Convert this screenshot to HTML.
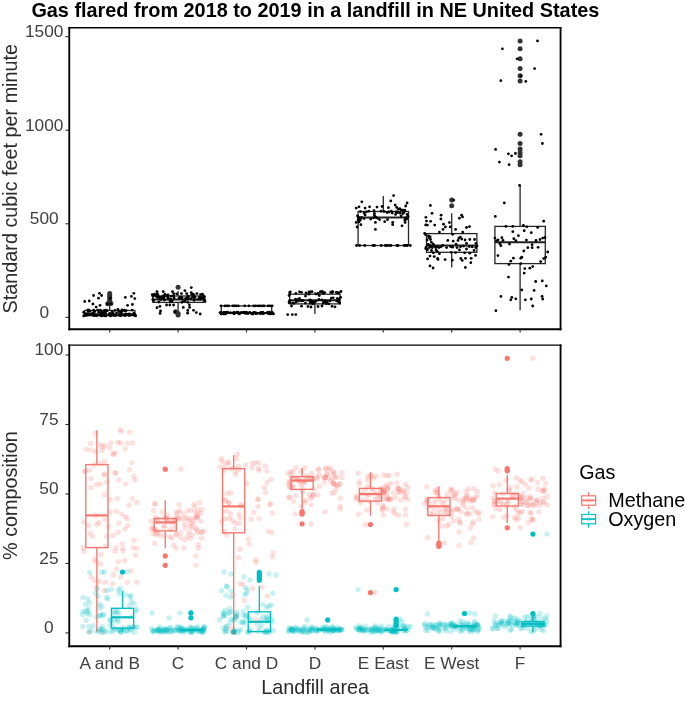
<!DOCTYPE html><html><head><meta charset="utf-8"><title>Gas flared</title><style>html,body{margin:0;padding:0;background:#fff;width:685px;height:704px;overflow:hidden}body{position:relative}</style></head><body><svg width="685" height="704" viewBox="0 0 685 704" style="position:absolute;left:0;top:0;display:block;will-change:transform">
<rect x="0" y="0" width="685" height="704" fill="#fff"/>
<text x="31.4" y="16.6" font-family="'Liberation Sans', sans-serif" font-weight="bold" font-size="19.85" fill="#000">Gas flared from 2018 to 2019 in a landfill in NE United States</text>
<g stroke="#262626" stroke-width="1.3" fill="none"><line x1="109.70" y1="305.00" x2="109.70" y2="310.50"/><line x1="109.70" y1="315.70" x2="109.70" y2="316.40"/><rect x="84.50" y="310.50" width="50.40" height="5.20" fill="#fff"/><line x1="178.10" y1="291.00" x2="178.10" y2="296.00"/><line x1="178.10" y1="302.40" x2="178.10" y2="311.30"/><rect x="152.90" y="296.00" width="50.40" height="6.40" fill="#fff"/><line x1="246.50" y1="305.90" x2="246.50" y2="305.90"/><line x1="246.50" y1="313.00" x2="246.50" y2="313.00"/><rect x="221.30" y="305.90" width="50.40" height="7.10" fill="#fff"/><line x1="314.90" y1="292.00" x2="314.90" y2="294.20"/><line x1="314.90" y1="303.90" x2="314.90" y2="314.10"/><rect x="289.70" y="294.20" width="50.40" height="9.70" fill="#fff"/><line x1="383.30" y1="196.10" x2="383.30" y2="211.50"/><line x1="383.30" y1="245.50" x2="383.30" y2="245.50"/><rect x="358.10" y="211.50" width="50.40" height="34.00" fill="#fff"/><line x1="451.70" y1="213.20" x2="451.70" y2="233.60"/><line x1="451.70" y1="252.30" x2="451.70" y2="267.50"/><rect x="426.50" y="233.60" width="50.40" height="18.70" fill="#fff"/><line x1="520.10" y1="185.60" x2="520.10" y2="226.40"/><line x1="520.10" y1="263.60" x2="520.10" y2="310.30"/><rect x="494.90" y="226.40" width="50.40" height="37.20" fill="#fff"/></g>
<g stroke="#222" stroke-width="2.0"><line x1="84.50" y1="314.80" x2="134.90" y2="314.80"/><line x1="152.90" y1="299.60" x2="203.30" y2="299.60"/><line x1="221.30" y1="313.00" x2="271.70" y2="313.00"/><line x1="289.70" y1="300.20" x2="340.10" y2="300.20"/><line x1="358.10" y1="217.40" x2="408.50" y2="217.40"/><line x1="426.50" y1="245.60" x2="476.90" y2="245.60"/><line x1="494.90" y1="242.30" x2="545.30" y2="242.30"/></g>
<g fill="#333"><circle cx="109.70" cy="293.60" r="2.5"/><circle cx="109.70" cy="295.50" r="2.5"/><circle cx="109.70" cy="297.50" r="2.5"/><circle cx="109.70" cy="299.50" r="2.5"/><circle cx="109.70" cy="301.20" r="2.5"/><circle cx="107.70" cy="303.80" r="2.5"/><circle cx="110.90" cy="303.60" r="2.5"/><circle cx="178.10" cy="287.30" r="2.5"/><circle cx="175.60" cy="311.80" r="2.5"/><circle cx="178.10" cy="313.60" r="2.5"/><circle cx="178.10" cy="315.00" r="2.5"/><circle cx="451.70" cy="200.10" r="2.5"/><circle cx="451.70" cy="205.80" r="2.5"/><circle cx="520.10" cy="41.10" r="2.5"/><circle cx="520.10" cy="48.80" r="2.5"/><circle cx="520.10" cy="58.80" r="2.5"/><circle cx="520.10" cy="68.60" r="2.5"/><circle cx="520.10" cy="75.80" r="2.5"/><circle cx="520.10" cy="81.10" r="2.5"/><circle cx="520.10" cy="134.30" r="2.5"/><circle cx="520.10" cy="143.50" r="2.5"/><circle cx="520.10" cy="149.00" r="2.5"/><circle cx="520.10" cy="152.80" r="2.5"/><circle cx="520.10" cy="155.80" r="2.5"/><circle cx="520.10" cy="161.80" r="2.5"/><circle cx="520.10" cy="164.70" r="2.5"/></g>
<g fill="#000"><circle cx="84.70" cy="301.50" r="1.4"/><circle cx="89.30" cy="301.00" r="1.4"/><circle cx="93.60" cy="295.50" r="1.4"/><circle cx="92.90" cy="304.00" r="1.4"/><circle cx="96.20" cy="307.10" r="1.4"/><circle cx="98.50" cy="298.20" r="1.4"/><circle cx="99.50" cy="293.30" r="1.4"/><circle cx="101.60" cy="295.50" r="1.4"/><circle cx="100.00" cy="305.30" r="1.4"/><circle cx="110.80" cy="303.70" r="1.4"/><circle cx="125.30" cy="297.40" r="1.4"/><circle cx="127.60" cy="305.30" r="1.4"/><circle cx="131.40" cy="296.40" r="1.4"/><circle cx="133.80" cy="293.30" r="1.4"/><circle cx="134.80" cy="298.60" r="1.4"/><circle cx="132.40" cy="304.50" r="1.4"/><circle cx="107.50" cy="304.00" r="1.4"/><circle cx="118.00" cy="309.50" r="1.4"/><circle cx="88.00" cy="309.80" r="1.4"/><circle cx="122.00" cy="310.00" r="1.4"/><circle cx="105.37" cy="312.40" r="1.4"/><circle cx="126.82" cy="314.19" r="1.4"/><circle cx="102.84" cy="313.76" r="1.4"/><circle cx="113.22" cy="313.61" r="1.4"/><circle cx="90.02" cy="314.63" r="1.4"/><circle cx="113.01" cy="313.67" r="1.4"/><circle cx="112.54" cy="314.38" r="1.4"/><circle cx="133.80" cy="313.21" r="1.4"/><circle cx="134.88" cy="314.57" r="1.4"/><circle cx="109.96" cy="313.54" r="1.4"/><circle cx="121.25" cy="313.74" r="1.4"/><circle cx="101.43" cy="312.61" r="1.4"/><circle cx="101.32" cy="315.93" r="1.4"/><circle cx="134.89" cy="315.45" r="1.4"/><circle cx="83.68" cy="315.88" r="1.4"/><circle cx="129.22" cy="315.51" r="1.4"/><circle cx="92.89" cy="313.26" r="1.4"/><circle cx="105.26" cy="315.76" r="1.4"/><circle cx="113.85" cy="315.43" r="1.4"/><circle cx="95.71" cy="314.89" r="1.4"/><circle cx="120.74" cy="315.63" r="1.4"/><circle cx="125.87" cy="313.93" r="1.4"/><circle cx="129.34" cy="313.86" r="1.4"/><circle cx="125.60" cy="314.98" r="1.4"/><circle cx="93.26" cy="315.07" r="1.4"/><circle cx="110.71" cy="315.92" r="1.4"/><circle cx="85.68" cy="313.62" r="1.4"/><circle cx="135.12" cy="315.65" r="1.4"/><circle cx="91.39" cy="313.91" r="1.4"/><circle cx="111.80" cy="313.58" r="1.4"/><circle cx="100.50" cy="312.89" r="1.4"/><circle cx="120.86" cy="313.12" r="1.4"/><circle cx="135.72" cy="315.84" r="1.4"/><circle cx="124.91" cy="315.52" r="1.4"/><circle cx="102.81" cy="315.30" r="1.4"/><circle cx="123.47" cy="314.77" r="1.4"/><circle cx="86.73" cy="315.17" r="1.4"/><circle cx="100.60" cy="315.12" r="1.4"/><circle cx="105.59" cy="315.90" r="1.4"/><circle cx="94.08" cy="315.51" r="1.4"/><circle cx="120.17" cy="314.98" r="1.4"/><circle cx="87.70" cy="313.62" r="1.4"/><circle cx="134.28" cy="313.92" r="1.4"/><circle cx="92.09" cy="314.15" r="1.4"/><circle cx="111.70" cy="314.88" r="1.4"/><circle cx="83.67" cy="312.23" r="1.4"/><circle cx="109.54" cy="313.72" r="1.4"/><circle cx="115.39" cy="315.57" r="1.4"/><circle cx="88.53" cy="314.84" r="1.4"/><circle cx="104.82" cy="315.56" r="1.4"/><circle cx="133.63" cy="314.58" r="1.4"/><circle cx="96.27" cy="315.75" r="1.4"/><circle cx="84.93" cy="314.30" r="1.4"/><circle cx="104.23" cy="313.69" r="1.4"/><circle cx="119.20" cy="314.88" r="1.4"/><circle cx="96.57" cy="314.57" r="1.4"/><circle cx="119.82" cy="314.28" r="1.4"/><circle cx="87.05" cy="314.71" r="1.4"/><circle cx="93.74" cy="315.15" r="1.4"/><circle cx="94.10" cy="313.47" r="1.4"/><circle cx="130.43" cy="314.30" r="1.4"/><circle cx="98.85" cy="314.93" r="1.4"/><circle cx="119.90" cy="315.28" r="1.4"/><circle cx="125.42" cy="314.04" r="1.4"/><circle cx="105.91" cy="314.41" r="1.4"/><circle cx="110.63" cy="315.03" r="1.4"/><circle cx="116.54" cy="313.04" r="1.4"/><circle cx="102.99" cy="315.37" r="1.4"/><circle cx="85.35" cy="315.46" r="1.4"/><circle cx="119.51" cy="314.54" r="1.4"/><circle cx="107.13" cy="310.66" r="1.4"/><circle cx="121.97" cy="311.20" r="1.4"/><circle cx="97.65" cy="310.07" r="1.4"/><circle cx="101.77" cy="312.30" r="1.4"/><circle cx="118.82" cy="311.56" r="1.4"/><circle cx="132.09" cy="310.08" r="1.4"/><circle cx="115.03" cy="310.47" r="1.4"/><circle cx="104.44" cy="310.45" r="1.4"/><circle cx="101.98" cy="312.25" r="1.4"/><circle cx="121.36" cy="312.12" r="1.4"/><circle cx="87.89" cy="310.75" r="1.4"/><circle cx="124.38" cy="310.10" r="1.4"/><circle cx="93.77" cy="310.20" r="1.4"/><circle cx="126.10" cy="310.58" r="1.4"/><circle cx="105.85" cy="310.03" r="1.4"/><circle cx="89.85" cy="311.28" r="1.4"/><circle cx="124.75" cy="310.85" r="1.4"/><circle cx="100.45" cy="310.10" r="1.4"/><circle cx="89.13" cy="310.37" r="1.4"/><circle cx="94.62" cy="311.42" r="1.4"/><circle cx="102.48" cy="312.44" r="1.4"/><circle cx="98.63" cy="312.14" r="1.4"/><circle cx="88.73" cy="311.32" r="1.4"/><circle cx="112.30" cy="311.64" r="1.4"/><circle cx="105.12" cy="311.31" r="1.4"/><circle cx="110.20" cy="298.00" r="1.4"/><circle cx="157.00" cy="291.60" r="1.4"/><circle cx="163.20" cy="291.60" r="1.4"/><circle cx="172.50" cy="291.60" r="1.4"/><circle cx="184.90" cy="290.70" r="1.4"/><circle cx="191.30" cy="287.60" r="1.4"/><circle cx="191.30" cy="292.60" r="1.4"/><circle cx="157.00" cy="307.70" r="1.4"/><circle cx="159.90" cy="306.30" r="1.4"/><circle cx="160.50" cy="311.00" r="1.4"/><circle cx="160.10" cy="313.40" r="1.4"/><circle cx="166.60" cy="305.00" r="1.4"/><circle cx="169.80" cy="305.00" r="1.4"/><circle cx="173.60" cy="305.00" r="1.4"/><circle cx="183.30" cy="307.40" r="1.4"/><circle cx="189.40" cy="304.80" r="1.4"/><circle cx="189.60" cy="307.40" r="1.4"/><circle cx="187.80" cy="310.50" r="1.4"/><circle cx="187.60" cy="313.20" r="1.4"/><circle cx="193.50" cy="310.30" r="1.4"/><circle cx="196.30" cy="312.60" r="1.4"/><circle cx="200.20" cy="314.00" r="1.4"/><circle cx="175.10" cy="311.80" r="1.4"/><circle cx="153.00" cy="296.00" r="1.4"/><circle cx="205.00" cy="301.50" r="1.4"/><circle cx="203.50" cy="297.00" r="1.4"/><circle cx="193.11" cy="294.49" r="1.4"/><circle cx="179.94" cy="297.32" r="1.4"/><circle cx="193.32" cy="294.56" r="1.4"/><circle cx="173.68" cy="293.66" r="1.4"/><circle cx="186.95" cy="299.14" r="1.4"/><circle cx="170.41" cy="298.81" r="1.4"/><circle cx="186.70" cy="293.61" r="1.4"/><circle cx="176.66" cy="293.80" r="1.4"/><circle cx="168.26" cy="298.70" r="1.4"/><circle cx="158.21" cy="297.17" r="1.4"/><circle cx="154.53" cy="294.21" r="1.4"/><circle cx="202.44" cy="294.13" r="1.4"/><circle cx="160.82" cy="299.61" r="1.4"/><circle cx="168.02" cy="294.91" r="1.4"/><circle cx="156.66" cy="296.75" r="1.4"/><circle cx="154.65" cy="294.93" r="1.4"/><circle cx="163.38" cy="298.34" r="1.4"/><circle cx="160.17" cy="297.32" r="1.4"/><circle cx="164.43" cy="299.96" r="1.4"/><circle cx="204.50" cy="299.51" r="1.4"/><circle cx="199.65" cy="297.10" r="1.4"/><circle cx="201.30" cy="297.66" r="1.4"/><circle cx="160.03" cy="298.26" r="1.4"/><circle cx="196.94" cy="293.59" r="1.4"/><circle cx="161.93" cy="298.60" r="1.4"/><circle cx="192.59" cy="297.14" r="1.4"/><circle cx="158.04" cy="295.22" r="1.4"/><circle cx="164.11" cy="299.87" r="1.4"/><circle cx="163.55" cy="295.91" r="1.4"/><circle cx="188.36" cy="297.81" r="1.4"/><circle cx="181.58" cy="297.73" r="1.4"/><circle cx="197.78" cy="299.44" r="1.4"/><circle cx="157.30" cy="293.70" r="1.4"/><circle cx="200.38" cy="299.42" r="1.4"/><circle cx="171.19" cy="296.10" r="1.4"/><circle cx="188.14" cy="296.24" r="1.4"/><circle cx="157.44" cy="295.12" r="1.4"/><circle cx="167.75" cy="297.18" r="1.4"/><circle cx="160.66" cy="298.24" r="1.4"/><circle cx="203.38" cy="296.00" r="1.4"/><circle cx="182.01" cy="297.64" r="1.4"/><circle cx="194.19" cy="297.59" r="1.4"/><circle cx="179.13" cy="298.18" r="1.4"/><circle cx="152.77" cy="299.61" r="1.4"/><circle cx="199.58" cy="298.01" r="1.4"/><circle cx="162.29" cy="297.57" r="1.4"/><circle cx="153.00" cy="296.09" r="1.4"/><circle cx="163.02" cy="297.15" r="1.4"/><circle cx="164.90" cy="294.10" r="1.4"/><circle cx="193.97" cy="295.13" r="1.4"/><circle cx="181.44" cy="293.61" r="1.4"/><circle cx="181.65" cy="298.63" r="1.4"/><circle cx="193.50" cy="295.63" r="1.4"/><circle cx="158.37" cy="297.46" r="1.4"/><circle cx="167.90" cy="295.36" r="1.4"/><circle cx="162.74" cy="296.06" r="1.4"/><circle cx="188.00" cy="296.11" r="1.4"/><circle cx="186.08" cy="298.23" r="1.4"/><circle cx="194.85" cy="297.21" r="1.4"/><circle cx="204.48" cy="296.76" r="1.4"/><circle cx="180.24" cy="297.78" r="1.4"/><circle cx="203.46" cy="298.06" r="1.4"/><circle cx="200.55" cy="294.53" r="1.4"/><circle cx="174.08" cy="298.07" r="1.4"/><circle cx="190.70" cy="298.90" r="1.4"/><circle cx="165.75" cy="295.55" r="1.4"/><circle cx="173.58" cy="296.05" r="1.4"/><circle cx="156.46" cy="296.03" r="1.4"/><circle cx="185.87" cy="298.31" r="1.4"/><circle cx="163.80" cy="297.53" r="1.4"/><circle cx="191.68" cy="294.51" r="1.4"/><circle cx="152.27" cy="294.54" r="1.4"/><circle cx="187.82" cy="302.37" r="1.4"/><circle cx="172.22" cy="300.81" r="1.4"/><circle cx="185.06" cy="300.82" r="1.4"/><circle cx="153.60" cy="300.64" r="1.4"/><circle cx="183.63" cy="301.19" r="1.4"/><circle cx="170.06" cy="301.02" r="1.4"/><circle cx="158.84" cy="302.00" r="1.4"/><circle cx="171.51" cy="301.79" r="1.4"/><circle cx="181.88" cy="302.34" r="1.4"/><circle cx="194.11" cy="300.34" r="1.4"/><circle cx="221.00" cy="305.80" r="1.4"/><circle cx="224.80" cy="305.80" r="1.4"/><circle cx="226.90" cy="305.80" r="1.4"/><circle cx="228.60" cy="305.80" r="1.4"/><circle cx="232.80" cy="305.80" r="1.4"/><circle cx="234.50" cy="305.80" r="1.4"/><circle cx="236.20" cy="305.80" r="1.4"/><circle cx="238.30" cy="305.80" r="1.4"/><circle cx="244.70" cy="305.80" r="1.4"/><circle cx="248.90" cy="305.80" r="1.4"/><circle cx="253.60" cy="305.80" r="1.4"/><circle cx="255.70" cy="305.80" r="1.4"/><circle cx="258.20" cy="305.80" r="1.4"/><circle cx="260.30" cy="305.80" r="1.4"/><circle cx="262.50" cy="305.80" r="1.4"/><circle cx="264.10" cy="305.80" r="1.4"/><circle cx="268.00" cy="305.80" r="1.4"/><circle cx="270.10" cy="305.80" r="1.4"/><circle cx="272.20" cy="305.80" r="1.4"/><circle cx="244.15" cy="312.12" r="1.4"/><circle cx="260.40" cy="312.56" r="1.4"/><circle cx="272.25" cy="312.55" r="1.4"/><circle cx="247.19" cy="313.08" r="1.4"/><circle cx="264.26" cy="313.29" r="1.4"/><circle cx="267.14" cy="312.74" r="1.4"/><circle cx="225.22" cy="312.47" r="1.4"/><circle cx="222.48" cy="313.51" r="1.4"/><circle cx="256.70" cy="313.61" r="1.4"/><circle cx="261.78" cy="312.35" r="1.4"/><circle cx="223.43" cy="313.42" r="1.4"/><circle cx="220.06" cy="312.77" r="1.4"/><circle cx="251.44" cy="313.40" r="1.4"/><circle cx="252.93" cy="314.00" r="1.4"/><circle cx="272.14" cy="312.72" r="1.4"/><circle cx="236.85" cy="312.14" r="1.4"/><circle cx="226.48" cy="312.98" r="1.4"/><circle cx="254.33" cy="312.57" r="1.4"/><circle cx="225.32" cy="313.47" r="1.4"/><circle cx="255.96" cy="313.10" r="1.4"/><circle cx="227.54" cy="312.49" r="1.4"/><circle cx="234.34" cy="313.81" r="1.4"/><circle cx="269.55" cy="312.19" r="1.4"/><circle cx="270.12" cy="313.93" r="1.4"/><circle cx="262.42" cy="312.57" r="1.4"/><circle cx="271.73" cy="313.72" r="1.4"/><circle cx="227.46" cy="312.17" r="1.4"/><circle cx="240.22" cy="313.26" r="1.4"/><circle cx="221.32" cy="314.01" r="1.4"/><circle cx="255.99" cy="313.13" r="1.4"/><circle cx="246.32" cy="312.31" r="1.4"/><circle cx="260.01" cy="313.58" r="1.4"/><circle cx="221.20" cy="313.71" r="1.4"/><circle cx="238.96" cy="313.97" r="1.4"/><circle cx="238.30" cy="312.52" r="1.4"/><circle cx="230.48" cy="312.76" r="1.4"/><circle cx="223.78" cy="312.43" r="1.4"/><circle cx="245.28" cy="313.20" r="1.4"/><circle cx="249.83" cy="312.36" r="1.4"/><circle cx="221.32" cy="312.39" r="1.4"/><circle cx="268.12" cy="312.37" r="1.4"/><circle cx="256.58" cy="313.21" r="1.4"/><circle cx="252.10" cy="313.97" r="1.4"/><circle cx="233.68" cy="313.51" r="1.4"/><circle cx="247.69" cy="312.84" r="1.4"/><circle cx="241.46" cy="312.50" r="1.4"/><circle cx="225.39" cy="313.94" r="1.4"/><circle cx="254.26" cy="312.44" r="1.4"/><circle cx="262.97" cy="312.47" r="1.4"/><circle cx="255.43" cy="313.27" r="1.4"/><circle cx="262.63" cy="312.92" r="1.4"/><circle cx="271.10" cy="313.54" r="1.4"/><circle cx="244.03" cy="312.34" r="1.4"/><circle cx="233.81" cy="312.36" r="1.4"/><circle cx="247.88" cy="313.71" r="1.4"/><circle cx="259.71" cy="313.37" r="1.4"/><circle cx="242.84" cy="312.66" r="1.4"/><circle cx="263.01" cy="313.44" r="1.4"/><circle cx="255.50" cy="313.22" r="1.4"/><circle cx="262.30" cy="313.28" r="1.4"/><circle cx="234.09" cy="312.85" r="1.4"/><circle cx="236.57" cy="312.68" r="1.4"/><circle cx="268.07" cy="313.52" r="1.4"/><circle cx="252.83" cy="313.00" r="1.4"/><circle cx="245.97" cy="312.31" r="1.4"/><circle cx="245.39" cy="313.28" r="1.4"/><circle cx="238.74" cy="313.11" r="1.4"/><circle cx="273.46" cy="313.93" r="1.4"/><circle cx="224.12" cy="313.99" r="1.4"/><circle cx="262.50" cy="313.72" r="1.4"/><circle cx="330.84" cy="292.13" r="1.4"/><circle cx="295.86" cy="293.43" r="1.4"/><circle cx="332.05" cy="291.81" r="1.4"/><circle cx="289.75" cy="294.34" r="1.4"/><circle cx="336.32" cy="292.28" r="1.4"/><circle cx="332.11" cy="292.40" r="1.4"/><circle cx="332.76" cy="291.54" r="1.4"/><circle cx="320.64" cy="292.17" r="1.4"/><circle cx="322.06" cy="291.58" r="1.4"/><circle cx="322.66" cy="291.80" r="1.4"/><circle cx="312.07" cy="291.71" r="1.4"/><circle cx="308.95" cy="291.97" r="1.4"/><circle cx="306.05" cy="292.91" r="1.4"/><circle cx="323.27" cy="293.40" r="1.4"/><circle cx="316.22" cy="294.06" r="1.4"/><circle cx="310.36" cy="291.93" r="1.4"/><circle cx="324.63" cy="292.57" r="1.4"/><circle cx="337.61" cy="292.67" r="1.4"/><circle cx="289.72" cy="292.53" r="1.4"/><circle cx="338.90" cy="292.93" r="1.4"/><circle cx="331.79" cy="292.60" r="1.4"/><circle cx="320.64" cy="291.73" r="1.4"/><circle cx="299.53" cy="291.81" r="1.4"/><circle cx="309.93" cy="292.47" r="1.4"/><circle cx="318.01" cy="293.45" r="1.4"/><circle cx="301.48" cy="292.30" r="1.4"/><circle cx="290.28" cy="291.86" r="1.4"/><circle cx="308.84" cy="294.20" r="1.4"/><circle cx="298.48" cy="301.04" r="1.4"/><circle cx="289.18" cy="301.94" r="1.4"/><circle cx="310.80" cy="300.66" r="1.4"/><circle cx="309.16" cy="300.36" r="1.4"/><circle cx="310.13" cy="299.92" r="1.4"/><circle cx="326.27" cy="303.67" r="1.4"/><circle cx="336.56" cy="300.83" r="1.4"/><circle cx="289.12" cy="302.84" r="1.4"/><circle cx="312.96" cy="301.73" r="1.4"/><circle cx="323.26" cy="303.06" r="1.4"/><circle cx="315.95" cy="301.17" r="1.4"/><circle cx="295.47" cy="299.21" r="1.4"/><circle cx="297.27" cy="299.77" r="1.4"/><circle cx="338.36" cy="301.83" r="1.4"/><circle cx="289.95" cy="300.59" r="1.4"/><circle cx="310.34" cy="303.17" r="1.4"/><circle cx="310.40" cy="301.73" r="1.4"/><circle cx="302.49" cy="300.62" r="1.4"/><circle cx="292.73" cy="302.91" r="1.4"/><circle cx="314.42" cy="302.66" r="1.4"/><circle cx="318.82" cy="299.44" r="1.4"/><circle cx="302.75" cy="300.60" r="1.4"/><circle cx="330.01" cy="300.73" r="1.4"/><circle cx="339.68" cy="302.98" r="1.4"/><circle cx="325.11" cy="301.66" r="1.4"/><circle cx="325.20" cy="300.69" r="1.4"/><circle cx="293.92" cy="303.29" r="1.4"/><circle cx="312.86" cy="303.79" r="1.4"/><circle cx="327.29" cy="301.87" r="1.4"/><circle cx="311.14" cy="302.43" r="1.4"/><circle cx="301.35" cy="300.77" r="1.4"/><circle cx="305.44" cy="303.09" r="1.4"/><circle cx="338.84" cy="299.49" r="1.4"/><circle cx="289.80" cy="300.76" r="1.4"/><circle cx="324.68" cy="301.19" r="1.4"/><circle cx="328.78" cy="303.84" r="1.4"/><circle cx="323.81" cy="302.33" r="1.4"/><circle cx="296.09" cy="301.93" r="1.4"/><circle cx="321.76" cy="299.98" r="1.4"/><circle cx="289.87" cy="302.39" r="1.4"/><circle cx="340.65" cy="297.41" r="1.4"/><circle cx="299.44" cy="298.42" r="1.4"/><circle cx="305.52" cy="296.04" r="1.4"/><circle cx="331.30" cy="298.07" r="1.4"/><circle cx="337.42" cy="298.48" r="1.4"/><circle cx="289.12" cy="295.53" r="1.4"/><circle cx="319.31" cy="295.54" r="1.4"/><circle cx="333.26" cy="297.81" r="1.4"/><circle cx="291.50" cy="306.00" r="1.4"/><circle cx="301.50" cy="306.20" r="1.4"/><circle cx="308.00" cy="306.50" r="1.4"/><circle cx="311.00" cy="307.00" r="1.4"/><circle cx="318.00" cy="306.50" r="1.4"/><circle cx="322.00" cy="306.00" r="1.4"/><circle cx="332.00" cy="306.30" r="1.4"/><circle cx="335.00" cy="306.80" r="1.4"/><circle cx="287.70" cy="314.60" r="1.4"/><circle cx="292.30" cy="314.60" r="1.4"/><circle cx="295.80" cy="314.60" r="1.4"/><circle cx="341.00" cy="291.50" r="1.4"/><circle cx="393.60" cy="195.60" r="1.4"/><circle cx="390.80" cy="200.90" r="1.4"/><circle cx="361.80" cy="201.80" r="1.4"/><circle cx="407.10" cy="203.00" r="1.4"/><circle cx="405.70" cy="206.00" r="1.4"/><circle cx="356.20" cy="208.10" r="1.4"/><circle cx="359.00" cy="206.80" r="1.4"/><circle cx="365.10" cy="208.10" r="1.4"/><circle cx="369.60" cy="206.80" r="1.4"/><circle cx="377.00" cy="207.10" r="1.4"/><circle cx="382.10" cy="206.50" r="1.4"/><circle cx="388.40" cy="207.70" r="1.4"/><circle cx="395.20" cy="205.10" r="1.4"/><circle cx="396.70" cy="207.40" r="1.4"/><circle cx="398.30" cy="209.30" r="1.4"/><circle cx="399.70" cy="208.60" r="1.4"/><circle cx="401.10" cy="209.80" r="1.4"/><circle cx="402.90" cy="210.20" r="1.4"/><circle cx="404.80" cy="210.20" r="1.4"/><circle cx="360.40" cy="211.60" r="1.4"/><circle cx="368.80" cy="211.20" r="1.4"/><circle cx="374.00" cy="210.70" r="1.4"/><circle cx="381.00" cy="211.20" r="1.4"/><circle cx="391.30" cy="211.20" r="1.4"/><circle cx="364.10" cy="213.00" r="1.4"/><circle cx="365.10" cy="214.90" r="1.4"/><circle cx="374.40" cy="213.50" r="1.4"/><circle cx="374.40" cy="215.40" r="1.4"/><circle cx="387.00" cy="212.60" r="1.4"/><circle cx="392.20" cy="213.00" r="1.4"/><circle cx="395.50" cy="214.40" r="1.4"/><circle cx="403.90" cy="212.60" r="1.4"/><circle cx="402.90" cy="213.50" r="1.4"/><circle cx="401.10" cy="215.80" r="1.4"/><circle cx="407.10" cy="214.40" r="1.4"/><circle cx="408.10" cy="216.50" r="1.4"/><circle cx="359.00" cy="218.60" r="1.4"/><circle cx="358.10" cy="220.00" r="1.4"/><circle cx="360.40" cy="220.00" r="1.4"/><circle cx="364.10" cy="218.60" r="1.4"/><circle cx="370.70" cy="219.10" r="1.4"/><circle cx="379.60" cy="219.60" r="1.4"/><circle cx="387.50" cy="219.60" r="1.4"/><circle cx="404.80" cy="220.00" r="1.4"/><circle cx="356.20" cy="222.40" r="1.4"/><circle cx="359.00" cy="221.90" r="1.4"/><circle cx="360.90" cy="224.70" r="1.4"/><circle cx="357.10" cy="227.00" r="1.4"/><circle cx="375.40" cy="222.40" r="1.4"/><circle cx="384.70" cy="221.70" r="1.4"/><circle cx="392.70" cy="222.40" r="1.4"/><circle cx="392.70" cy="224.70" r="1.4"/><circle cx="405.10" cy="222.40" r="1.4"/><circle cx="402.00" cy="225.80" r="1.4"/><circle cx="375.40" cy="229.40" r="1.4"/><circle cx="375.80" cy="217.20" r="1.4"/><circle cx="358.50" cy="217.20" r="1.4"/><circle cx="357.50" cy="216.00" r="1.4"/><circle cx="361.50" cy="217.50" r="1.4"/><circle cx="373.50" cy="217.80" r="1.4"/><circle cx="377.50" cy="218.20" r="1.4"/><circle cx="396.00" cy="211.80" r="1.4"/><circle cx="397.50" cy="212.60" r="1.4"/><circle cx="400.00" cy="213.20" r="1.4"/><circle cx="405.50" cy="217.80" r="1.4"/><circle cx="406.50" cy="219.20" r="1.4"/><circle cx="366.50" cy="211.80" r="1.4"/><circle cx="384.00" cy="211.50" r="1.4"/><circle cx="389.00" cy="212.00" r="1.4"/><circle cx="356.60" cy="245.50" r="1.4"/><circle cx="359.70" cy="245.50" r="1.4"/><circle cx="364.80" cy="245.50" r="1.4"/><circle cx="373.00" cy="245.50" r="1.4"/><circle cx="374.50" cy="245.50" r="1.4"/><circle cx="381.20" cy="245.50" r="1.4"/><circle cx="385.30" cy="245.50" r="1.4"/><circle cx="386.80" cy="245.50" r="1.4"/><circle cx="388.80" cy="245.50" r="1.4"/><circle cx="390.90" cy="245.50" r="1.4"/><circle cx="397.00" cy="245.50" r="1.4"/><circle cx="398.00" cy="245.50" r="1.4"/><circle cx="404.20" cy="245.50" r="1.4"/><circle cx="405.70" cy="245.50" r="1.4"/><circle cx="407.20" cy="245.50" r="1.4"/><circle cx="410.30" cy="245.50" r="1.4"/><circle cx="430.40" cy="205.50" r="1.4"/><circle cx="432.00" cy="213.30" r="1.4"/><circle cx="425.90" cy="217.30" r="1.4"/><circle cx="441.10" cy="215.20" r="1.4"/><circle cx="440.90" cy="219.00" r="1.4"/><circle cx="426.50" cy="221.10" r="1.4"/><circle cx="430.60" cy="221.30" r="1.4"/><circle cx="425.70" cy="224.90" r="1.4"/><circle cx="427.40" cy="225.10" r="1.4"/><circle cx="434.70" cy="225.10" r="1.4"/><circle cx="443.50" cy="224.20" r="1.4"/><circle cx="445.40" cy="227.00" r="1.4"/><circle cx="443.00" cy="229.40" r="1.4"/><circle cx="449.40" cy="222.60" r="1.4"/><circle cx="450.20" cy="226.90" r="1.4"/><circle cx="455.60" cy="229.40" r="1.4"/><circle cx="459.40" cy="218.20" r="1.4"/><circle cx="461.60" cy="215.20" r="1.4"/><circle cx="462.50" cy="216.90" r="1.4"/><circle cx="466.50" cy="227.50" r="1.4"/><circle cx="469.50" cy="226.60" r="1.4"/><circle cx="453.70" cy="200.10" r="1.4"/><circle cx="424.70" cy="233.30" r="1.4"/><circle cx="425.70" cy="234.70" r="1.4"/><circle cx="439.40" cy="232.10" r="1.4"/><circle cx="452.70" cy="234.30" r="1.4"/><circle cx="462.70" cy="232.10" r="1.4"/><circle cx="429.00" cy="237.60" r="1.4"/><circle cx="430.20" cy="236.80" r="1.4"/><circle cx="427.10" cy="240.00" r="1.4"/><circle cx="431.40" cy="242.30" r="1.4"/><circle cx="433.30" cy="244.20" r="1.4"/><circle cx="429.50" cy="245.20" r="1.4"/><circle cx="426.20" cy="247.10" r="1.4"/><circle cx="429.50" cy="247.60" r="1.4"/><circle cx="432.30" cy="247.60" r="1.4"/><circle cx="435.70" cy="247.60" r="1.4"/><circle cx="439.00" cy="247.60" r="1.4"/><circle cx="442.80" cy="245.40" r="1.4"/><circle cx="446.60" cy="247.60" r="1.4"/><circle cx="447.80" cy="240.40" r="1.4"/><circle cx="453.20" cy="241.20" r="1.4"/><circle cx="456.10" cy="244.20" r="1.4"/><circle cx="457.00" cy="247.60" r="1.4"/><circle cx="458.00" cy="240.40" r="1.4"/><circle cx="458.90" cy="238.10" r="1.4"/><circle cx="460.30" cy="237.10" r="1.4"/><circle cx="461.70" cy="239.00" r="1.4"/><circle cx="465.10" cy="240.00" r="1.4"/><circle cx="469.80" cy="239.50" r="1.4"/><circle cx="474.60" cy="239.50" r="1.4"/><circle cx="466.50" cy="243.30" r="1.4"/><circle cx="476.00" cy="243.30" r="1.4"/><circle cx="463.60" cy="246.10" r="1.4"/><circle cx="469.30" cy="246.60" r="1.4"/><circle cx="472.20" cy="246.90" r="1.4"/><circle cx="466.50" cy="249.00" r="1.4"/><circle cx="474.10" cy="250.40" r="1.4"/><circle cx="459.40" cy="249.90" r="1.4"/><circle cx="437.10" cy="251.30" r="1.4"/><circle cx="433.30" cy="252.80" r="1.4"/><circle cx="439.40" cy="253.70" r="1.4"/><circle cx="451.30" cy="252.30" r="1.4"/><circle cx="455.60" cy="252.60" r="1.4"/><circle cx="464.60" cy="252.80" r="1.4"/><circle cx="469.80" cy="253.20" r="1.4"/><circle cx="475.50" cy="255.40" r="1.4"/><circle cx="430.00" cy="256.10" r="1.4"/><circle cx="434.20" cy="256.60" r="1.4"/><circle cx="427.60" cy="258.90" r="1.4"/><circle cx="437.60" cy="258.50" r="1.4"/><circle cx="438.00" cy="259.40" r="1.4"/><circle cx="445.10" cy="259.60" r="1.4"/><circle cx="452.30" cy="260.20" r="1.4"/><circle cx="460.80" cy="258.50" r="1.4"/><circle cx="462.20" cy="260.40" r="1.4"/><circle cx="465.50" cy="258.30" r="1.4"/><circle cx="471.20" cy="258.30" r="1.4"/><circle cx="470.80" cy="262.70" r="1.4"/><circle cx="430.00" cy="265.90" r="1.4"/><circle cx="433.10" cy="268.00" r="1.4"/><circle cx="465.40" cy="267.50" r="1.4"/><circle cx="436.10" cy="249.90" r="1.4"/><circle cx="425.70" cy="248.50" r="1.4"/><circle cx="428.00" cy="244.50" r="1.4"/><circle cx="431.00" cy="246.50" r="1.4"/><circle cx="434.50" cy="246.20" r="1.4"/><circle cx="437.50" cy="246.80" r="1.4"/><circle cx="427.50" cy="249.50" r="1.4"/><circle cx="431.50" cy="250.50" r="1.4"/><circle cx="441.00" cy="246.80" r="1.4"/><circle cx="450.50" cy="246.50" r="1.4"/><circle cx="452.50" cy="247.20" r="1.4"/><circle cx="460.50" cy="246.80" r="1.4"/><circle cx="475.80" cy="247.50" r="1.4"/><circle cx="477.00" cy="245.80" r="1.4"/><circle cx="430.50" cy="239.50" r="1.4"/><circle cx="428.50" cy="236.00" r="1.4"/><circle cx="537.50" cy="40.90" r="1.4"/><circle cx="502.40" cy="48.80" r="1.4"/><circle cx="517.10" cy="58.80" r="1.4"/><circle cx="534.60" cy="68.60" r="1.4"/><circle cx="521.10" cy="75.80" r="1.4"/><circle cx="500.80" cy="80.70" r="1.4"/><circle cx="525.80" cy="81.40" r="1.4"/><circle cx="541.10" cy="134.30" r="1.4"/><circle cx="542.40" cy="143.50" r="1.4"/><circle cx="495.60" cy="149.40" r="1.4"/><circle cx="508.40" cy="153.80" r="1.4"/><circle cx="511.60" cy="155.80" r="1.4"/><circle cx="515.40" cy="153.50" r="1.4"/><circle cx="499.40" cy="162.10" r="1.4"/><circle cx="509.10" cy="164.70" r="1.4"/><circle cx="519.60" cy="185.40" r="1.4"/><circle cx="504.30" cy="202.90" r="1.4"/><circle cx="495.30" cy="216.40" r="1.4"/><circle cx="543.70" cy="221.20" r="1.4"/><circle cx="505.90" cy="226.40" r="1.4"/><circle cx="512.80" cy="226.40" r="1.4"/><circle cx="523.40" cy="225.40" r="1.4"/><circle cx="526.80" cy="226.80" r="1.4"/><circle cx="537.70" cy="227.40" r="1.4"/><circle cx="512.80" cy="231.70" r="1.4"/><circle cx="524.20" cy="230.70" r="1.4"/><circle cx="531.30" cy="232.70" r="1.4"/><circle cx="518.40" cy="235.70" r="1.4"/><circle cx="494.90" cy="238.10" r="1.4"/><circle cx="501.90" cy="237.70" r="1.4"/><circle cx="513.80" cy="238.70" r="1.4"/><circle cx="515.80" cy="240.70" r="1.4"/><circle cx="526.40" cy="240.10" r="1.4"/><circle cx="542.70" cy="238.10" r="1.4"/><circle cx="499.90" cy="243.70" r="1.4"/><circle cx="500.90" cy="245.70" r="1.4"/><circle cx="509.50" cy="244.10" r="1.4"/><circle cx="527.80" cy="247.70" r="1.4"/><circle cx="532.10" cy="244.70" r="1.4"/><circle cx="532.10" cy="247.70" r="1.4"/><circle cx="538.10" cy="247.30" r="1.4"/><circle cx="523.80" cy="251.00" r="1.4"/><circle cx="547.70" cy="252.00" r="1.4"/><circle cx="497.90" cy="255.60" r="1.4"/><circle cx="513.40" cy="258.20" r="1.4"/><circle cx="510.80" cy="261.20" r="1.4"/><circle cx="520.80" cy="258.20" r="1.4"/><circle cx="521.80" cy="257.20" r="1.4"/><circle cx="545.70" cy="257.20" r="1.4"/><circle cx="543.70" cy="258.60" r="1.4"/><circle cx="540.70" cy="261.60" r="1.4"/><circle cx="508.90" cy="264.60" r="1.4"/><circle cx="520.80" cy="263.60" r="1.4"/><circle cx="524.80" cy="268.60" r="1.4"/><circle cx="529.80" cy="268.20" r="1.4"/><circle cx="532.70" cy="266.60" r="1.4"/><circle cx="524.20" cy="273.10" r="1.4"/><circle cx="508.50" cy="277.10" r="1.4"/><circle cx="535.70" cy="281.50" r="1.4"/><circle cx="542.30" cy="280.90" r="1.4"/><circle cx="546.30" cy="285.90" r="1.4"/><circle cx="521.80" cy="289.90" r="1.4"/><circle cx="534.10" cy="290.40" r="1.4"/><circle cx="500.90" cy="296.40" r="1.4"/><circle cx="511.80" cy="297.40" r="1.4"/><circle cx="510.80" cy="299.80" r="1.4"/><circle cx="515.80" cy="298.80" r="1.4"/><circle cx="525.40" cy="299.80" r="1.4"/><circle cx="531.30" cy="299.00" r="1.4"/><circle cx="542.10" cy="296.40" r="1.4"/><circle cx="542.70" cy="299.00" r="1.4"/><circle cx="532.70" cy="306.00" r="1.4"/><circle cx="495.90" cy="310.70" r="1.4"/><circle cx="496.50" cy="241.00" r="1.4"/><circle cx="498.00" cy="240.00" r="1.4"/><circle cx="536.00" cy="240.50" r="1.4"/><circle cx="540.00" cy="239.50" r="1.4"/><circle cx="545.00" cy="237.50" r="1.4"/><circle cx="503.00" cy="240.50" r="1.4"/></g>
<g stroke="#F8766D" stroke-width="1.35" fill="none"><line x1="96.87" y1="430.20" x2="96.87" y2="464.60"/><line x1="96.87" y1="547.60" x2="96.87" y2="632.00"/><rect x="85.77" y="464.60" width="22.20" height="83.00" fill="#fff"/><line x1="165.27" y1="500.20" x2="165.27" y2="518.50"/><line x1="165.27" y1="530.90" x2="165.27" y2="548.50"/><rect x="154.17" y="518.50" width="22.20" height="12.40" fill="#fff"/><line x1="233.67" y1="455.00" x2="233.67" y2="468.60"/><line x1="233.67" y1="532.80" x2="233.67" y2="630.00"/><rect x="222.57" y="468.60" width="22.20" height="64.20" fill="#fff"/><line x1="302.07" y1="468.00" x2="302.07" y2="476.70"/><line x1="302.07" y1="489.40" x2="302.07" y2="508.70"/><rect x="290.97" y="476.70" width="22.20" height="12.70" fill="#fff"/><line x1="370.47" y1="472.30" x2="370.47" y2="488.40"/><line x1="370.47" y1="501.10" x2="370.47" y2="515.70"/><rect x="359.37" y="488.40" width="22.20" height="12.70" fill="#fff"/><line x1="438.87" y1="486.30" x2="438.87" y2="497.60"/><line x1="438.87" y1="515.50" x2="438.87" y2="542.20"/><rect x="427.77" y="497.60" width="22.20" height="17.90" fill="#fff"/><line x1="507.27" y1="474.80" x2="507.27" y2="493.50"/><line x1="507.27" y1="506.00" x2="507.27" y2="523.00"/><rect x="496.17" y="493.50" width="22.20" height="12.50" fill="#fff"/></g>
<g stroke="#F8766D" stroke-width="2.2"><line x1="85.77" y1="515.40" x2="107.97" y2="515.40"/><line x1="154.17" y1="522.40" x2="176.37" y2="522.40"/><line x1="222.57" y1="506.40" x2="244.77" y2="506.40"/><line x1="290.97" y1="480.60" x2="313.17" y2="480.60"/><line x1="359.37" y1="494.10" x2="381.57" y2="494.10"/><line x1="427.77" y1="506.30" x2="449.97" y2="506.30"/><line x1="496.17" y1="498.60" x2="518.37" y2="498.60"/></g>
<g fill="#F8766D"><circle cx="165.27" cy="469.20" r="2.6"/><circle cx="165.27" cy="555.90" r="2.6"/><circle cx="165.27" cy="565.30" r="2.6"/><circle cx="233.67" cy="632.00" r="2.6"/><circle cx="302.07" cy="511.70" r="2.6"/><circle cx="302.07" cy="513.30" r="2.6"/><circle cx="302.07" cy="514.10" r="2.6"/><circle cx="302.07" cy="523.80" r="2.6"/><circle cx="370.47" cy="524.50" r="2.6"/><circle cx="370.47" cy="592.60" r="2.6"/><circle cx="438.87" cy="543.20" r="2.6"/><circle cx="438.87" cy="544.60" r="2.6"/><circle cx="438.87" cy="546.30" r="2.6"/><circle cx="507.27" cy="358.30" r="2.6"/><circle cx="507.27" cy="468.50" r="2.6"/><circle cx="507.27" cy="470.00" r="2.6"/><circle cx="507.27" cy="470.80" r="2.6"/><circle cx="507.27" cy="527.80" r="2.6"/></g>
<g stroke="#00BFC4" stroke-width="1.35" fill="none"><line x1="122.53" y1="590.70" x2="122.53" y2="608.30"/><line x1="122.53" y1="628.20" x2="122.53" y2="632.00"/><rect x="111.43" y="608.30" width="22.20" height="19.90" fill="#fff"/><rect x="179.83" y="630.10" width="22.20" height="0.01" fill="#fff"/><line x1="259.33" y1="586.10" x2="259.33" y2="611.80"/><line x1="259.33" y1="631.60" x2="259.33" y2="632.00"/><rect x="248.23" y="611.80" width="22.20" height="19.80" fill="#fff"/><rect x="316.63" y="629.60" width="22.20" height="0.01" fill="#fff"/><rect x="385.03" y="629.80" width="22.20" height="0.01" fill="#fff"/><rect x="453.43" y="626.30" width="22.20" height="0.01" fill="#fff"/><line x1="532.93" y1="615.50" x2="532.93" y2="621.60"/><line x1="532.93" y1="626.10" x2="532.93" y2="632.20"/><rect x="521.83" y="621.60" width="22.20" height="4.50" fill="#fff"/></g>
<g stroke="#00BFC4" stroke-width="2.2"><line x1="111.43" y1="617.30" x2="133.63" y2="617.30"/><line x1="179.83" y1="630.10" x2="202.03" y2="630.10"/><line x1="248.23" y1="621.80" x2="270.43" y2="621.80"/><line x1="316.63" y1="629.60" x2="338.83" y2="629.60"/><line x1="385.03" y1="629.80" x2="407.23" y2="629.80"/><line x1="453.43" y1="626.30" x2="475.63" y2="626.30"/><line x1="521.83" y1="623.90" x2="544.03" y2="623.90"/></g>
<g fill="#00BFC4"><circle cx="122.53" cy="572.10" r="2.6"/><circle cx="190.93" cy="612.90" r="2.6"/><circle cx="190.93" cy="617.80" r="2.6"/><circle cx="259.33" cy="572.30" r="2.6"/><circle cx="259.33" cy="574.30" r="2.6"/><circle cx="259.33" cy="576.30" r="2.6"/><circle cx="259.33" cy="578.30" r="2.6"/><circle cx="259.33" cy="580.30" r="2.6"/><circle cx="327.73" cy="619.90" r="2.6"/><circle cx="396.13" cy="589.60" r="2.6"/><circle cx="396.13" cy="619.10" r="2.6"/><circle cx="396.13" cy="621.10" r="2.6"/><circle cx="396.13" cy="623.10" r="2.6"/><circle cx="396.13" cy="625.20" r="2.6"/><circle cx="464.53" cy="613.50" r="2.6"/><circle cx="532.93" cy="613.50" r="2.6"/><circle cx="532.93" cy="534.10" r="2.6"/></g>
<g fill="#F8766D" fill-opacity="0.22"><circle cx="95.40" cy="433.20" r="2.7"/><circle cx="120.00" cy="429.60" r="2.7"/><circle cx="121.50" cy="431.60" r="2.7"/><circle cx="129.70" cy="432.20" r="2.7"/><circle cx="90.30" cy="443.40" r="2.7"/><circle cx="86.20" cy="449.30" r="2.7"/><circle cx="90.80" cy="450.00" r="2.7"/><circle cx="95.40" cy="451.80" r="2.7"/><circle cx="100.50" cy="444.90" r="2.7"/><circle cx="102.60" cy="447.00" r="2.7"/><circle cx="105.10" cy="446.00" r="2.7"/><circle cx="102.10" cy="450.50" r="2.7"/><circle cx="109.70" cy="448.00" r="2.7"/><circle cx="110.80" cy="442.90" r="2.7"/><circle cx="117.90" cy="442.40" r="2.7"/><circle cx="120.50" cy="442.90" r="2.7"/><circle cx="127.60" cy="443.20" r="2.7"/><circle cx="132.70" cy="442.90" r="2.7"/><circle cx="125.10" cy="448.70" r="2.7"/><circle cx="112.80" cy="453.80" r="2.7"/><circle cx="115.40" cy="452.60" r="2.7"/><circle cx="113.80" cy="454.60" r="2.7"/><circle cx="104.60" cy="461.80" r="2.7"/><circle cx="131.70" cy="462.60" r="2.7"/><circle cx="129.70" cy="470.00" r="2.7"/><circle cx="115.40" cy="472.50" r="2.7"/><circle cx="94.40" cy="464.90" r="2.7"/><circle cx="100.50" cy="463.80" r="2.7"/><circle cx="89.80" cy="470.00" r="2.7"/><circle cx="85.20" cy="471.50" r="2.7"/><circle cx="104.60" cy="474.00" r="2.7"/><circle cx="84.70" cy="471.40" r="2.7"/><circle cx="90.90" cy="478.50" r="2.7"/><circle cx="90.90" cy="487.60" r="2.7"/><circle cx="96.60" cy="484.50" r="2.7"/><circle cx="100.60" cy="483.90" r="2.7"/><circle cx="104.00" cy="475.10" r="2.7"/><circle cx="106.80" cy="481.40" r="2.7"/><circle cx="104.50" cy="494.80" r="2.7"/><circle cx="115.30" cy="473.20" r="2.7"/><circle cx="118.80" cy="480.00" r="2.7"/><circle cx="125.60" cy="483.90" r="2.7"/><circle cx="134.10" cy="476.30" r="2.7"/><circle cx="135.20" cy="480.00" r="2.7"/><circle cx="110.20" cy="499.80" r="2.7"/><circle cx="117.30" cy="498.60" r="2.7"/><circle cx="132.40" cy="498.60" r="2.7"/><circle cx="136.90" cy="502.40" r="2.7"/><circle cx="129.00" cy="505.00" r="2.7"/><circle cx="110.20" cy="512.30" r="2.7"/><circle cx="116.50" cy="511.50" r="2.7"/><circle cx="121.60" cy="514.30" r="2.7"/><circle cx="125.00" cy="516.60" r="2.7"/><circle cx="127.30" cy="518.60" r="2.7"/><circle cx="95.50" cy="515.50" r="2.7"/><circle cx="83.50" cy="522.00" r="2.7"/><circle cx="88.60" cy="525.50" r="2.7"/><circle cx="96.60" cy="524.50" r="2.7"/><circle cx="98.90" cy="522.80" r="2.7"/><circle cx="105.10" cy="519.40" r="2.7"/><circle cx="108.00" cy="526.60" r="2.7"/><circle cx="118.80" cy="523.20" r="2.7"/><circle cx="125.00" cy="528.90" r="2.7"/><circle cx="127.80" cy="525.70" r="2.7"/><circle cx="89.80" cy="533.10" r="2.7"/><circle cx="92.60" cy="536.10" r="2.7"/><circle cx="106.30" cy="535.90" r="2.7"/><circle cx="113.10" cy="535.30" r="2.7"/><circle cx="118.20" cy="532.30" r="2.7"/><circle cx="134.10" cy="540.50" r="2.7"/><circle cx="122.20" cy="543.60" r="2.7"/><circle cx="83.00" cy="547.80" r="2.7"/><circle cx="105.70" cy="546.10" r="2.7"/><circle cx="115.90" cy="547.80" r="2.7"/><circle cx="122.70" cy="548.40" r="2.7"/><circle cx="133.00" cy="547.80" r="2.7"/><circle cx="136.90" cy="548.40" r="2.7"/><circle cx="84.00" cy="551.20" r="2.7"/><circle cx="115.00" cy="551.20" r="2.7"/><circle cx="123.10" cy="551.20" r="2.7"/><circle cx="135.70" cy="555.30" r="2.7"/><circle cx="94.60" cy="559.40" r="2.7"/><circle cx="96.20" cy="561.80" r="2.7"/><circle cx="101.10" cy="554.50" r="2.7"/><circle cx="118.20" cy="561.80" r="2.7"/><circle cx="124.80" cy="560.20" r="2.7"/><circle cx="100.30" cy="564.30" r="2.7"/><circle cx="116.60" cy="569.20" r="2.7"/><circle cx="113.30" cy="574.90" r="2.7"/><circle cx="120.70" cy="577.30" r="2.7"/><circle cx="131.30" cy="570.80" r="2.7"/><circle cx="91.30" cy="577.30" r="2.7"/><circle cx="94.60" cy="580.60" r="2.7"/><circle cx="99.50" cy="581.40" r="2.7"/><circle cx="105.20" cy="582.20" r="2.7"/><circle cx="112.50" cy="583.80" r="2.7"/><circle cx="127.20" cy="582.20" r="2.7"/><circle cx="136.70" cy="582.20" r="2.7"/><circle cx="104.40" cy="590.40" r="2.7"/><circle cx="96.20" cy="587.40" r="2.7"/><circle cx="89.70" cy="632.30" r="2.7"/><circle cx="101.90" cy="632.00" r="2.7"/><circle cx="198.06" cy="515.15" r="2.7"/><circle cx="179.94" cy="510.50" r="2.7"/><circle cx="180.69" cy="532.53" r="2.7"/><circle cx="200.82" cy="532.39" r="2.7"/><circle cx="199.67" cy="502.78" r="2.7"/><circle cx="194.86" cy="506.90" r="2.7"/><circle cx="198.41" cy="547.88" r="2.7"/><circle cx="190.03" cy="526.19" r="2.7"/><circle cx="190.88" cy="510.30" r="2.7"/><circle cx="198.02" cy="510.33" r="2.7"/><circle cx="163.78" cy="517.94" r="2.7"/><circle cx="188.38" cy="520.66" r="2.7"/><circle cx="171.85" cy="523.06" r="2.7"/><circle cx="191.98" cy="534.77" r="2.7"/><circle cx="197.01" cy="518.23" r="2.7"/><circle cx="153.57" cy="510.63" r="2.7"/><circle cx="157.00" cy="530.37" r="2.7"/><circle cx="155.32" cy="530.81" r="2.7"/><circle cx="150.80" cy="528.61" r="2.7"/><circle cx="164.25" cy="527.35" r="2.7"/><circle cx="192.36" cy="527.64" r="2.7"/><circle cx="154.75" cy="504.07" r="2.7"/><circle cx="171.67" cy="537.96" r="2.7"/><circle cx="176.15" cy="517.78" r="2.7"/><circle cx="176.49" cy="533.85" r="2.7"/><circle cx="162.05" cy="511.91" r="2.7"/><circle cx="201.03" cy="521.33" r="2.7"/><circle cx="175.02" cy="518.84" r="2.7"/><circle cx="164.10" cy="535.82" r="2.7"/><circle cx="194.68" cy="517.59" r="2.7"/><circle cx="190.43" cy="538.53" r="2.7"/><circle cx="173.59" cy="545.27" r="2.7"/><circle cx="155.68" cy="534.67" r="2.7"/><circle cx="197.32" cy="517.55" r="2.7"/><circle cx="165.87" cy="517.98" r="2.7"/><circle cx="158.19" cy="533.40" r="2.7"/><circle cx="188.97" cy="532.31" r="2.7"/><circle cx="185.89" cy="517.75" r="2.7"/><circle cx="155.48" cy="517.69" r="2.7"/><circle cx="193.90" cy="503.96" r="2.7"/><circle cx="179.93" cy="519.07" r="2.7"/><circle cx="166.51" cy="519.36" r="2.7"/><circle cx="183.12" cy="513.92" r="2.7"/><circle cx="159.42" cy="535.23" r="2.7"/><circle cx="192.05" cy="519.91" r="2.7"/><circle cx="164.33" cy="525.54" r="2.7"/><circle cx="201.80" cy="532.31" r="2.7"/><circle cx="174.98" cy="527.04" r="2.7"/><circle cx="170.39" cy="529.28" r="2.7"/><circle cx="179.08" cy="504.72" r="2.7"/><circle cx="187.63" cy="536.28" r="2.7"/><circle cx="177.26" cy="513.53" r="2.7"/><circle cx="167.32" cy="514.96" r="2.7"/><circle cx="196.73" cy="530.06" r="2.7"/><circle cx="166.99" cy="518.66" r="2.7"/><circle cx="157.62" cy="521.69" r="2.7"/><circle cx="204.19" cy="530.83" r="2.7"/><circle cx="201.97" cy="509.44" r="2.7"/><circle cx="201.42" cy="538.24" r="2.7"/><circle cx="195.13" cy="512.12" r="2.7"/><circle cx="198.31" cy="544.78" r="2.7"/><circle cx="191.27" cy="523.44" r="2.7"/><circle cx="169.49" cy="536.60" r="2.7"/><circle cx="183.50" cy="519.11" r="2.7"/><circle cx="155.21" cy="503.74" r="2.7"/><circle cx="189.17" cy="518.50" r="2.7"/><circle cx="157.95" cy="518.75" r="2.7"/><circle cx="176.02" cy="535.11" r="2.7"/><circle cx="176.68" cy="512.15" r="2.7"/><circle cx="196.10" cy="528.23" r="2.7"/><circle cx="180.62" cy="537.55" r="2.7"/><circle cx="172.91" cy="520.52" r="2.7"/><circle cx="153.70" cy="528.87" r="2.7"/><circle cx="184.77" cy="539.88" r="2.7"/><circle cx="151.13" cy="521.08" r="2.7"/><circle cx="174.67" cy="521.14" r="2.7"/><circle cx="153.07" cy="533.57" r="2.7"/><circle cx="153.05" cy="527.21" r="2.7"/><circle cx="167.83" cy="521.34" r="2.7"/><circle cx="196.62" cy="515.48" r="2.7"/><circle cx="178.73" cy="517.87" r="2.7"/><circle cx="184.13" cy="524.33" r="2.7"/><circle cx="187.27" cy="510.68" r="2.7"/><circle cx="185.37" cy="527.87" r="2.7"/><circle cx="154.41" cy="543.26" r="2.7"/><circle cx="197.32" cy="532.55" r="2.7"/><circle cx="193.80" cy="523.00" r="2.7"/><circle cx="200.86" cy="513.31" r="2.7"/><circle cx="180.80" cy="469.20" r="2.7"/><circle cx="195.80" cy="556.00" r="2.7"/><circle cx="195.80" cy="565.30" r="2.7"/><circle cx="176.00" cy="548.00" r="2.7"/><circle cx="184.00" cy="548.00" r="2.7"/><circle cx="237.30" cy="454.20" r="2.7"/><circle cx="236.50" cy="458.80" r="2.7"/><circle cx="221.20" cy="458.80" r="2.7"/><circle cx="222.20" cy="461.40" r="2.7"/><circle cx="227.80" cy="461.90" r="2.7"/><circle cx="228.90" cy="462.90" r="2.7"/><circle cx="225.30" cy="464.90" r="2.7"/><circle cx="220.20" cy="467.00" r="2.7"/><circle cx="230.40" cy="468.50" r="2.7"/><circle cx="233.50" cy="468.00" r="2.7"/><circle cx="238.60" cy="466.50" r="2.7"/><circle cx="239.10" cy="469.50" r="2.7"/><circle cx="236.00" cy="471.60" r="2.7"/><circle cx="235.50" cy="474.60" r="2.7"/><circle cx="224.30" cy="470.50" r="2.7"/><circle cx="245.70" cy="464.90" r="2.7"/><circle cx="252.40" cy="463.40" r="2.7"/><circle cx="255.40" cy="462.90" r="2.7"/><circle cx="259.00" cy="462.60" r="2.7"/><circle cx="251.90" cy="468.00" r="2.7"/><circle cx="258.50" cy="468.50" r="2.7"/><circle cx="259.00" cy="470.50" r="2.7"/><circle cx="265.10" cy="466.00" r="2.7"/><circle cx="266.70" cy="471.10" r="2.7"/><circle cx="271.30" cy="479.20" r="2.7"/><circle cx="267.20" cy="482.30" r="2.7"/><circle cx="246.70" cy="483.30" r="2.7"/><circle cx="264.10" cy="487.40" r="2.7"/><circle cx="265.60" cy="492.20" r="2.7"/><circle cx="227.30" cy="493.50" r="2.7"/><circle cx="230.90" cy="493.00" r="2.7"/><circle cx="225.30" cy="499.70" r="2.7"/><circle cx="228.90" cy="502.70" r="2.7"/><circle cx="258.00" cy="499.00" r="2.7"/><circle cx="270.20" cy="503.80" r="2.7"/><circle cx="241.10" cy="504.80" r="2.7"/><circle cx="225.30" cy="501.00" r="2.7"/><circle cx="228.90" cy="503.10" r="2.7"/><circle cx="258.00" cy="500.00" r="2.7"/><circle cx="258.00" cy="506.60" r="2.7"/><circle cx="270.20" cy="504.60" r="2.7"/><circle cx="241.10" cy="506.10" r="2.7"/><circle cx="226.30" cy="510.70" r="2.7"/><circle cx="230.40" cy="513.80" r="2.7"/><circle cx="239.10" cy="514.30" r="2.7"/><circle cx="240.10" cy="517.90" r="2.7"/><circle cx="225.30" cy="518.90" r="2.7"/><circle cx="229.40" cy="518.40" r="2.7"/><circle cx="232.40" cy="520.40" r="2.7"/><circle cx="221.20" cy="521.50" r="2.7"/><circle cx="235.00" cy="523.00" r="2.7"/><circle cx="239.10" cy="523.50" r="2.7"/><circle cx="253.90" cy="512.30" r="2.7"/><circle cx="251.30" cy="519.20" r="2.7"/><circle cx="259.00" cy="518.60" r="2.7"/><circle cx="272.30" cy="513.10" r="2.7"/><circle cx="235.00" cy="528.60" r="2.7"/><circle cx="224.80" cy="531.70" r="2.7"/><circle cx="226.80" cy="534.70" r="2.7"/><circle cx="268.20" cy="531.20" r="2.7"/><circle cx="271.80" cy="532.50" r="2.7"/><circle cx="248.30" cy="539.30" r="2.7"/><circle cx="249.30" cy="544.10" r="2.7"/><circle cx="240.10" cy="549.30" r="2.7"/><circle cx="273.10" cy="552.60" r="2.7"/><circle cx="272.30" cy="556.70" r="2.7"/><circle cx="238.60" cy="557.70" r="2.7"/><circle cx="255.90" cy="559.80" r="2.7"/><circle cx="255.80" cy="562.10" r="2.7"/><circle cx="240.30" cy="583.70" r="2.7"/><circle cx="243.00" cy="584.40" r="2.7"/><circle cx="252.50" cy="588.40" r="2.7"/><circle cx="261.90" cy="587.10" r="2.7"/><circle cx="267.30" cy="595.90" r="2.7"/><circle cx="244.40" cy="600.60" r="2.7"/><circle cx="232.90" cy="595.20" r="2.7"/><circle cx="230.90" cy="628.20" r="2.7"/><circle cx="256.50" cy="620.10" r="2.7"/><circle cx="236.30" cy="616.80" r="2.7"/><circle cx="332.09" cy="479.44" r="2.7"/><circle cx="290.92" cy="475.66" r="2.7"/><circle cx="334.57" cy="492.40" r="2.7"/><circle cx="318.97" cy="474.64" r="2.7"/><circle cx="313.68" cy="494.71" r="2.7"/><circle cx="293.47" cy="501.22" r="2.7"/><circle cx="291.79" cy="488.40" r="2.7"/><circle cx="288.50" cy="497.50" r="2.7"/><circle cx="304.76" cy="482.41" r="2.7"/><circle cx="289.90" cy="486.47" r="2.7"/><circle cx="342.15" cy="477.51" r="2.7"/><circle cx="333.42" cy="472.47" r="2.7"/><circle cx="289.51" cy="486.49" r="2.7"/><circle cx="302.34" cy="488.16" r="2.7"/><circle cx="291.07" cy="471.71" r="2.7"/><circle cx="304.82" cy="481.26" r="2.7"/><circle cx="300.66" cy="471.41" r="2.7"/><circle cx="293.62" cy="478.52" r="2.7"/><circle cx="290.91" cy="482.07" r="2.7"/><circle cx="289.11" cy="481.31" r="2.7"/><circle cx="304.87" cy="467.69" r="2.7"/><circle cx="288.71" cy="483.49" r="2.7"/><circle cx="326.51" cy="473.71" r="2.7"/><circle cx="318.79" cy="469.64" r="2.7"/><circle cx="313.02" cy="494.54" r="2.7"/><circle cx="297.86" cy="480.05" r="2.7"/><circle cx="336.99" cy="476.98" r="2.7"/><circle cx="330.38" cy="469.33" r="2.7"/><circle cx="302.52" cy="491.45" r="2.7"/><circle cx="335.05" cy="477.34" r="2.7"/><circle cx="310.03" cy="477.97" r="2.7"/><circle cx="298.04" cy="477.94" r="2.7"/><circle cx="333.49" cy="483.21" r="2.7"/><circle cx="333.74" cy="483.09" r="2.7"/><circle cx="324.61" cy="482.53" r="2.7"/><circle cx="299.13" cy="480.45" r="2.7"/><circle cx="306.38" cy="475.80" r="2.7"/><circle cx="304.81" cy="502.51" r="2.7"/><circle cx="340.26" cy="506.23" r="2.7"/><circle cx="317.35" cy="477.10" r="2.7"/><circle cx="307.51" cy="477.43" r="2.7"/><circle cx="340.23" cy="498.18" r="2.7"/><circle cx="330.65" cy="481.31" r="2.7"/><circle cx="314.09" cy="488.90" r="2.7"/><circle cx="336.26" cy="488.23" r="2.7"/><circle cx="339.41" cy="484.23" r="2.7"/><circle cx="333.49" cy="484.35" r="2.7"/><circle cx="317.61" cy="494.90" r="2.7"/><circle cx="311.97" cy="496.64" r="2.7"/><circle cx="301.62" cy="506.77" r="2.7"/><circle cx="327.59" cy="474.36" r="2.7"/><circle cx="325.00" cy="477.31" r="2.7"/><circle cx="292.82" cy="471.65" r="2.7"/><circle cx="311.25" cy="504.71" r="2.7"/><circle cx="300.52" cy="482.11" r="2.7"/><circle cx="311.60" cy="473.29" r="2.7"/><circle cx="325.60" cy="477.54" r="2.7"/><circle cx="289.98" cy="497.09" r="2.7"/><circle cx="329.26" cy="468.00" r="2.7"/><circle cx="312.29" cy="477.78" r="2.7"/><circle cx="323.47" cy="477.69" r="2.7"/><circle cx="325.82" cy="467.96" r="2.7"/><circle cx="337.25" cy="485.77" r="2.7"/><circle cx="309.33" cy="494.66" r="2.7"/><circle cx="328.08" cy="477.69" r="2.7"/><circle cx="292.42" cy="485.48" r="2.7"/><circle cx="310.76" cy="498.47" r="2.7"/><circle cx="295.72" cy="495.64" r="2.7"/><circle cx="333.74" cy="474.78" r="2.7"/><circle cx="301.51" cy="484.61" r="2.7"/><circle cx="303.09" cy="480.39" r="2.7"/><circle cx="316.69" cy="478.93" r="2.7"/><circle cx="294.28" cy="477.23" r="2.7"/><circle cx="331.95" cy="493.20" r="2.7"/><circle cx="293.06" cy="487.40" r="2.7"/><circle cx="335.69" cy="484.49" r="2.7"/><circle cx="340.15" cy="483.74" r="2.7"/><circle cx="313.17" cy="479.06" r="2.7"/><circle cx="319.49" cy="486.27" r="2.7"/><circle cx="341.89" cy="472.40" r="2.7"/><circle cx="305.33" cy="500.50" r="2.7"/><circle cx="325.10" cy="477.61" r="2.7"/><circle cx="318.34" cy="468.69" r="2.7"/><circle cx="295.74" cy="467.65" r="2.7"/><circle cx="333.84" cy="471.83" r="2.7"/><circle cx="307.91" cy="477.94" r="2.7"/><circle cx="325.68" cy="469.13" r="2.7"/><circle cx="287.99" cy="473.36" r="2.7"/><circle cx="295.40" cy="514.10" r="2.7"/><circle cx="311.10" cy="523.80" r="2.7"/><circle cx="325.00" cy="512.00" r="2.7"/><circle cx="340.00" cy="509.00" r="2.7"/><circle cx="359.22" cy="484.46" r="2.7"/><circle cx="398.46" cy="488.29" r="2.7"/><circle cx="396.84" cy="482.83" r="2.7"/><circle cx="390.65" cy="498.98" r="2.7"/><circle cx="390.93" cy="483.52" r="2.7"/><circle cx="381.41" cy="488.46" r="2.7"/><circle cx="373.61" cy="490.27" r="2.7"/><circle cx="405.73" cy="484.28" r="2.7"/><circle cx="377.58" cy="502.96" r="2.7"/><circle cx="360.26" cy="502.72" r="2.7"/><circle cx="405.49" cy="497.45" r="2.7"/><circle cx="406.60" cy="493.07" r="2.7"/><circle cx="398.57" cy="515.47" r="2.7"/><circle cx="383.03" cy="493.03" r="2.7"/><circle cx="408.10" cy="499.58" r="2.7"/><circle cx="383.54" cy="491.73" r="2.7"/><circle cx="395.20" cy="514.09" r="2.7"/><circle cx="383.50" cy="493.28" r="2.7"/><circle cx="383.71" cy="474.94" r="2.7"/><circle cx="401.04" cy="500.37" r="2.7"/><circle cx="390.29" cy="499.63" r="2.7"/><circle cx="400.21" cy="492.58" r="2.7"/><circle cx="387.24" cy="487.81" r="2.7"/><circle cx="386.42" cy="498.32" r="2.7"/><circle cx="386.74" cy="484.89" r="2.7"/><circle cx="371.15" cy="474.86" r="2.7"/><circle cx="378.94" cy="496.29" r="2.7"/><circle cx="375.28" cy="498.84" r="2.7"/><circle cx="376.95" cy="493.42" r="2.7"/><circle cx="366.95" cy="495.01" r="2.7"/><circle cx="367.77" cy="486.52" r="2.7"/><circle cx="379.41" cy="497.94" r="2.7"/><circle cx="384.10" cy="486.97" r="2.7"/><circle cx="387.16" cy="499.77" r="2.7"/><circle cx="367.55" cy="480.08" r="2.7"/><circle cx="403.45" cy="490.50" r="2.7"/><circle cx="386.66" cy="493.84" r="2.7"/><circle cx="383.94" cy="489.87" r="2.7"/><circle cx="364.19" cy="499.65" r="2.7"/><circle cx="393.11" cy="511.98" r="2.7"/><circle cx="383.17" cy="506.96" r="2.7"/><circle cx="383.47" cy="514.99" r="2.7"/><circle cx="365.05" cy="489.54" r="2.7"/><circle cx="398.09" cy="492.32" r="2.7"/><circle cx="386.77" cy="509.06" r="2.7"/><circle cx="367.60" cy="476.53" r="2.7"/><circle cx="356.86" cy="497.42" r="2.7"/><circle cx="407.72" cy="487.72" r="2.7"/><circle cx="383.60" cy="492.45" r="2.7"/><circle cx="382.94" cy="505.38" r="2.7"/><circle cx="404.44" cy="496.46" r="2.7"/><circle cx="381.81" cy="510.28" r="2.7"/><circle cx="380.21" cy="489.61" r="2.7"/><circle cx="382.11" cy="498.62" r="2.7"/><circle cx="368.76" cy="500.96" r="2.7"/><circle cx="376.38" cy="476.17" r="2.7"/><circle cx="394.15" cy="508.99" r="2.7"/><circle cx="405.73" cy="514.65" r="2.7"/><circle cx="358.51" cy="514.16" r="2.7"/><circle cx="405.26" cy="509.31" r="2.7"/><circle cx="356.33" cy="498.89" r="2.7"/><circle cx="366.72" cy="509.92" r="2.7"/><circle cx="371.00" cy="475.98" r="2.7"/><circle cx="388.08" cy="499.49" r="2.7"/><circle cx="385.11" cy="492.08" r="2.7"/><circle cx="359.63" cy="500.35" r="2.7"/><circle cx="356.36" cy="496.32" r="2.7"/><circle cx="361.25" cy="493.08" r="2.7"/><circle cx="387.80" cy="488.16" r="2.7"/><circle cx="397.24" cy="488.54" r="2.7"/><circle cx="403.36" cy="491.66" r="2.7"/><circle cx="393.54" cy="492.99" r="2.7"/><circle cx="373.43" cy="478.28" r="2.7"/><circle cx="389.42" cy="475.62" r="2.7"/><circle cx="381.58" cy="491.96" r="2.7"/><circle cx="371.91" cy="488.43" r="2.7"/><circle cx="382.59" cy="508.76" r="2.7"/><circle cx="399.42" cy="489.70" r="2.7"/><circle cx="388.49" cy="497.76" r="2.7"/><circle cx="395.48" cy="497.60" r="2.7"/><circle cx="359.36" cy="481.53" r="2.7"/><circle cx="399.11" cy="488.68" r="2.7"/><circle cx="387.05" cy="475.73" r="2.7"/><circle cx="387.75" cy="489.26" r="2.7"/><circle cx="358.20" cy="473.26" r="2.7"/><circle cx="368.98" cy="494.55" r="2.7"/><circle cx="397.12" cy="474.27" r="2.7"/><circle cx="383.70" cy="490.34" r="2.7"/><circle cx="365.60" cy="524.50" r="2.7"/><circle cx="406.50" cy="524.50" r="2.7"/><circle cx="375.00" cy="592.60" r="2.7"/><circle cx="459.61" cy="521.84" r="2.7"/><circle cx="439.73" cy="498.52" r="2.7"/><circle cx="473.80" cy="488.80" r="2.7"/><circle cx="456.94" cy="492.47" r="2.7"/><circle cx="465.87" cy="491.56" r="2.7"/><circle cx="470.13" cy="499.04" r="2.7"/><circle cx="475.33" cy="511.14" r="2.7"/><circle cx="466.51" cy="495.47" r="2.7"/><circle cx="461.12" cy="512.06" r="2.7"/><circle cx="446.23" cy="508.32" r="2.7"/><circle cx="453.71" cy="520.95" r="2.7"/><circle cx="478.99" cy="519.66" r="2.7"/><circle cx="451.61" cy="490.86" r="2.7"/><circle cx="458.95" cy="531.84" r="2.7"/><circle cx="436.07" cy="492.39" r="2.7"/><circle cx="434.72" cy="490.34" r="2.7"/><circle cx="452.37" cy="495.41" r="2.7"/><circle cx="472.84" cy="523.91" r="2.7"/><circle cx="472.04" cy="507.49" r="2.7"/><circle cx="448.88" cy="512.43" r="2.7"/><circle cx="446.53" cy="508.65" r="2.7"/><circle cx="427.72" cy="508.12" r="2.7"/><circle cx="455.01" cy="496.11" r="2.7"/><circle cx="434.17" cy="504.12" r="2.7"/><circle cx="473.63" cy="537.91" r="2.7"/><circle cx="463.15" cy="500.33" r="2.7"/><circle cx="442.33" cy="525.97" r="2.7"/><circle cx="438.91" cy="509.90" r="2.7"/><circle cx="463.86" cy="498.70" r="2.7"/><circle cx="475.08" cy="497.61" r="2.7"/><circle cx="478.66" cy="513.88" r="2.7"/><circle cx="453.21" cy="509.14" r="2.7"/><circle cx="473.19" cy="521.90" r="2.7"/><circle cx="426.66" cy="499.97" r="2.7"/><circle cx="424.80" cy="503.59" r="2.7"/><circle cx="462.97" cy="502.45" r="2.7"/><circle cx="455.14" cy="493.69" r="2.7"/><circle cx="435.56" cy="500.45" r="2.7"/><circle cx="438.28" cy="514.13" r="2.7"/><circle cx="467.05" cy="499.65" r="2.7"/><circle cx="470.20" cy="501.11" r="2.7"/><circle cx="469.91" cy="513.72" r="2.7"/><circle cx="451.72" cy="516.60" r="2.7"/><circle cx="467.53" cy="496.26" r="2.7"/><circle cx="473.53" cy="500.80" r="2.7"/><circle cx="427.72" cy="537.53" r="2.7"/><circle cx="478.67" cy="512.31" r="2.7"/><circle cx="426.69" cy="486.85" r="2.7"/><circle cx="467.12" cy="513.34" r="2.7"/><circle cx="470.43" cy="527.98" r="2.7"/><circle cx="458.67" cy="519.23" r="2.7"/><circle cx="444.35" cy="503.04" r="2.7"/><circle cx="458.11" cy="499.62" r="2.7"/><circle cx="460.17" cy="523.40" r="2.7"/><circle cx="448.83" cy="523.84" r="2.7"/><circle cx="466.14" cy="497.98" r="2.7"/><circle cx="428.02" cy="499.90" r="2.7"/><circle cx="456.95" cy="509.29" r="2.7"/><circle cx="433.19" cy="513.12" r="2.7"/><circle cx="441.75" cy="502.25" r="2.7"/><circle cx="430.48" cy="514.03" r="2.7"/><circle cx="437.96" cy="495.47" r="2.7"/><circle cx="473.38" cy="500.51" r="2.7"/><circle cx="468.55" cy="488.93" r="2.7"/><circle cx="451.92" cy="511.66" r="2.7"/><circle cx="462.91" cy="505.06" r="2.7"/><circle cx="433.75" cy="507.90" r="2.7"/><circle cx="472.71" cy="499.15" r="2.7"/><circle cx="446.58" cy="512.33" r="2.7"/><circle cx="443.57" cy="511.80" r="2.7"/><circle cx="447.18" cy="493.71" r="2.7"/><circle cx="450.50" cy="489.09" r="2.7"/><circle cx="428.68" cy="503.87" r="2.7"/><circle cx="443.01" cy="518.63" r="2.7"/><circle cx="427.23" cy="500.96" r="2.7"/><circle cx="457.31" cy="508.88" r="2.7"/><circle cx="458.27" cy="509.13" r="2.7"/><circle cx="477.16" cy="496.42" r="2.7"/><circle cx="452.03" cy="489.71" r="2.7"/><circle cx="466.17" cy="508.08" r="2.7"/><circle cx="477.22" cy="491.52" r="2.7"/><circle cx="453.78" cy="498.23" r="2.7"/><circle cx="447.31" cy="526.09" r="2.7"/><circle cx="436.89" cy="492.29" r="2.7"/><circle cx="446.42" cy="498.34" r="2.7"/><circle cx="466.50" cy="514.14" r="2.7"/><circle cx="438.73" cy="520.80" r="2.7"/><circle cx="437.17" cy="489.16" r="2.7"/><circle cx="444.50" cy="543.00" r="2.7"/><circle cx="459.00" cy="545.50" r="2.7"/><circle cx="471.00" cy="542.50" r="2.7"/><circle cx="543.69" cy="503.17" r="2.7"/><circle cx="494.64" cy="502.00" r="2.7"/><circle cx="494.62" cy="492.85" r="2.7"/><circle cx="522.01" cy="496.74" r="2.7"/><circle cx="530.29" cy="496.72" r="2.7"/><circle cx="537.08" cy="500.17" r="2.7"/><circle cx="525.19" cy="501.99" r="2.7"/><circle cx="520.23" cy="499.57" r="2.7"/><circle cx="493.03" cy="485.95" r="2.7"/><circle cx="509.82" cy="491.88" r="2.7"/><circle cx="503.23" cy="504.29" r="2.7"/><circle cx="516.94" cy="486.88" r="2.7"/><circle cx="528.59" cy="487.99" r="2.7"/><circle cx="509.12" cy="489.80" r="2.7"/><circle cx="529.84" cy="498.72" r="2.7"/><circle cx="493.43" cy="504.70" r="2.7"/><circle cx="502.53" cy="493.73" r="2.7"/><circle cx="498.34" cy="501.45" r="2.7"/><circle cx="523.20" cy="493.53" r="2.7"/><circle cx="547.25" cy="496.53" r="2.7"/><circle cx="500.02" cy="509.46" r="2.7"/><circle cx="520.79" cy="497.89" r="2.7"/><circle cx="525.89" cy="498.06" r="2.7"/><circle cx="516.42" cy="478.07" r="2.7"/><circle cx="536.42" cy="500.09" r="2.7"/><circle cx="531.80" cy="479.19" r="2.7"/><circle cx="518.61" cy="495.39" r="2.7"/><circle cx="521.52" cy="504.37" r="2.7"/><circle cx="506.74" cy="505.54" r="2.7"/><circle cx="530.82" cy="480.12" r="2.7"/><circle cx="539.75" cy="502.31" r="2.7"/><circle cx="507.44" cy="515.72" r="2.7"/><circle cx="495.12" cy="500.80" r="2.7"/><circle cx="539.44" cy="505.25" r="2.7"/><circle cx="542.74" cy="498.31" r="2.7"/><circle cx="542.79" cy="478.26" r="2.7"/><circle cx="537.95" cy="489.16" r="2.7"/><circle cx="528.16" cy="522.43" r="2.7"/><circle cx="520.03" cy="512.52" r="2.7"/><circle cx="530.06" cy="512.49" r="2.7"/><circle cx="492.92" cy="498.32" r="2.7"/><circle cx="528.34" cy="505.27" r="2.7"/><circle cx="544.14" cy="488.35" r="2.7"/><circle cx="521.42" cy="502.21" r="2.7"/><circle cx="514.57" cy="517.43" r="2.7"/><circle cx="520.33" cy="480.32" r="2.7"/><circle cx="527.85" cy="505.85" r="2.7"/><circle cx="531.01" cy="498.38" r="2.7"/><circle cx="518.33" cy="513.09" r="2.7"/><circle cx="531.18" cy="504.67" r="2.7"/><circle cx="537.56" cy="482.53" r="2.7"/><circle cx="531.05" cy="513.16" r="2.7"/><circle cx="532.88" cy="519.20" r="2.7"/><circle cx="514.37" cy="506.39" r="2.7"/><circle cx="534.63" cy="505.91" r="2.7"/><circle cx="520.87" cy="498.23" r="2.7"/><circle cx="543.21" cy="491.18" r="2.7"/><circle cx="510.09" cy="487.43" r="2.7"/><circle cx="538.98" cy="511.83" r="2.7"/><circle cx="512.25" cy="496.56" r="2.7"/><circle cx="535.90" cy="502.74" r="2.7"/><circle cx="516.33" cy="519.67" r="2.7"/><circle cx="521.77" cy="481.83" r="2.7"/><circle cx="512.84" cy="495.61" r="2.7"/><circle cx="500.98" cy="502.33" r="2.7"/><circle cx="523.00" cy="504.62" r="2.7"/><circle cx="542.43" cy="490.66" r="2.7"/><circle cx="507.91" cy="502.69" r="2.7"/><circle cx="533.14" cy="504.21" r="2.7"/><circle cx="495.68" cy="508.63" r="2.7"/><circle cx="505.99" cy="480.25" r="2.7"/><circle cx="545.73" cy="483.35" r="2.7"/><circle cx="544.58" cy="490.72" r="2.7"/><circle cx="504.00" cy="517.15" r="2.7"/><circle cx="532.65" cy="520.17" r="2.7"/><circle cx="494.86" cy="504.00" r="2.7"/><circle cx="516.50" cy="494.05" r="2.7"/><circle cx="516.09" cy="509.53" r="2.7"/><circle cx="518.26" cy="518.32" r="2.7"/><circle cx="544.06" cy="501.71" r="2.7"/><circle cx="499.32" cy="484.66" r="2.7"/><circle cx="522.22" cy="511.30" r="2.7"/><circle cx="547.49" cy="505.04" r="2.7"/><circle cx="492.75" cy="516.65" r="2.7"/><circle cx="525.14" cy="484.35" r="2.7"/><circle cx="531.12" cy="518.79" r="2.7"/><circle cx="507.70" cy="500.79" r="2.7"/><circle cx="527.14" cy="501.70" r="2.7"/><circle cx="532.80" cy="358.30" r="2.7"/><circle cx="520.40" cy="527.60" r="2.7"/><circle cx="495.00" cy="469.00" r="2.7"/><circle cx="498.00" cy="471.00" r="2.7"/></g>
<g fill="#00BFC4" fill-opacity="0.22"><circle cx="123.73" cy="631.54" r="2.7"/><circle cx="121.08" cy="631.87" r="2.7"/><circle cx="107.86" cy="599.03" r="2.7"/><circle cx="110.61" cy="631.62" r="2.7"/><circle cx="115.96" cy="610.90" r="2.7"/><circle cx="87.70" cy="598.89" r="2.7"/><circle cx="89.02" cy="626.49" r="2.7"/><circle cx="100.30" cy="614.95" r="2.7"/><circle cx="135.76" cy="611.26" r="2.7"/><circle cx="118.11" cy="611.87" r="2.7"/><circle cx="103.43" cy="614.65" r="2.7"/><circle cx="106.66" cy="597.49" r="2.7"/><circle cx="117.47" cy="619.75" r="2.7"/><circle cx="88.42" cy="632.06" r="2.7"/><circle cx="136.39" cy="609.20" r="2.7"/><circle cx="100.97" cy="628.73" r="2.7"/><circle cx="110.04" cy="620.20" r="2.7"/><circle cx="124.19" cy="628.23" r="2.7"/><circle cx="96.84" cy="616.84" r="2.7"/><circle cx="126.71" cy="630.48" r="2.7"/><circle cx="129.76" cy="629.05" r="2.7"/><circle cx="118.37" cy="590.12" r="2.7"/><circle cx="102.34" cy="626.42" r="2.7"/><circle cx="95.61" cy="593.11" r="2.7"/><circle cx="114.85" cy="628.52" r="2.7"/><circle cx="136.89" cy="627.25" r="2.7"/><circle cx="106.89" cy="590.60" r="2.7"/><circle cx="119.56" cy="630.65" r="2.7"/><circle cx="110.69" cy="620.03" r="2.7"/><circle cx="87.35" cy="610.85" r="2.7"/><circle cx="114.75" cy="629.11" r="2.7"/><circle cx="100.09" cy="629.61" r="2.7"/><circle cx="114.53" cy="619.70" r="2.7"/><circle cx="93.31" cy="625.81" r="2.7"/><circle cx="89.81" cy="614.44" r="2.7"/><circle cx="130.88" cy="630.23" r="2.7"/><circle cx="134.06" cy="603.72" r="2.7"/><circle cx="131.87" cy="616.17" r="2.7"/><circle cx="91.31" cy="630.72" r="2.7"/><circle cx="134.37" cy="632.04" r="2.7"/><circle cx="101.94" cy="606.26" r="2.7"/><circle cx="132.97" cy="626.58" r="2.7"/><circle cx="133.02" cy="627.30" r="2.7"/><circle cx="136.26" cy="627.33" r="2.7"/><circle cx="127.23" cy="631.17" r="2.7"/><circle cx="105.85" cy="631.12" r="2.7"/><circle cx="104.97" cy="631.83" r="2.7"/><circle cx="112.01" cy="623.44" r="2.7"/><circle cx="82.84" cy="611.52" r="2.7"/><circle cx="97.37" cy="588.97" r="2.7"/><circle cx="99.45" cy="608.56" r="2.7"/><circle cx="88.26" cy="608.50" r="2.7"/><circle cx="129.45" cy="605.50" r="2.7"/><circle cx="120.65" cy="632.36" r="2.7"/><circle cx="82.80" cy="626.50" r="2.7"/><circle cx="89.67" cy="603.01" r="2.7"/><circle cx="99.18" cy="631.09" r="2.7"/><circle cx="130.32" cy="595.45" r="2.7"/><circle cx="125.60" cy="594.87" r="2.7"/><circle cx="101.96" cy="632.50" r="2.7"/><circle cx="130.50" cy="596.91" r="2.7"/><circle cx="113.38" cy="614.44" r="2.7"/><circle cx="119.30" cy="630.07" r="2.7"/><circle cx="112.86" cy="631.33" r="2.7"/><circle cx="131.42" cy="601.27" r="2.7"/><circle cx="85.42" cy="604.08" r="2.7"/><circle cx="110.13" cy="625.80" r="2.7"/><circle cx="129.12" cy="627.38" r="2.7"/><circle cx="118.16" cy="621.70" r="2.7"/><circle cx="118.14" cy="613.70" r="2.7"/><circle cx="118.62" cy="629.68" r="2.7"/><circle cx="129.23" cy="626.83" r="2.7"/><circle cx="119.32" cy="593.87" r="2.7"/><circle cx="100.27" cy="615.70" r="2.7"/><circle cx="99.13" cy="604.10" r="2.7"/><circle cx="102.83" cy="629.64" r="2.7"/><circle cx="96.94" cy="631.39" r="2.7"/><circle cx="82.65" cy="614.49" r="2.7"/><circle cx="121.83" cy="628.28" r="2.7"/><circle cx="82.95" cy="597.35" r="2.7"/><circle cx="86.18" cy="620.14" r="2.7"/><circle cx="87.49" cy="613.57" r="2.7"/><circle cx="97.77" cy="596.32" r="2.7"/><circle cx="102.83" cy="614.98" r="2.7"/><circle cx="113.99" cy="611.73" r="2.7"/><circle cx="86.08" cy="611.14" r="2.7"/><circle cx="120.34" cy="588.29" r="2.7"/><circle cx="110.90" cy="589.59" r="2.7"/><circle cx="89.70" cy="572.70" r="2.7"/><circle cx="101.90" cy="572.30" r="2.7"/><circle cx="104.40" cy="572.30" r="2.7"/><circle cx="127.20" cy="571.80" r="2.7"/><circle cx="191.46" cy="632.36" r="2.7"/><circle cx="154.14" cy="630.64" r="2.7"/><circle cx="204.03" cy="628.09" r="2.7"/><circle cx="181.34" cy="631.89" r="2.7"/><circle cx="165.15" cy="628.85" r="2.7"/><circle cx="190.03" cy="631.27" r="2.7"/><circle cx="202.31" cy="630.65" r="2.7"/><circle cx="153.65" cy="631.43" r="2.7"/><circle cx="166.37" cy="630.33" r="2.7"/><circle cx="190.20" cy="632.37" r="2.7"/><circle cx="180.92" cy="628.12" r="2.7"/><circle cx="178.74" cy="630.30" r="2.7"/><circle cx="191.91" cy="628.64" r="2.7"/><circle cx="180.93" cy="627.06" r="2.7"/><circle cx="204.68" cy="626.75" r="2.7"/><circle cx="180.35" cy="628.46" r="2.7"/><circle cx="165.76" cy="629.79" r="2.7"/><circle cx="164.57" cy="629.34" r="2.7"/><circle cx="167.61" cy="630.10" r="2.7"/><circle cx="203.11" cy="628.84" r="2.7"/><circle cx="160.16" cy="626.98" r="2.7"/><circle cx="200.88" cy="631.20" r="2.7"/><circle cx="196.21" cy="628.18" r="2.7"/><circle cx="174.89" cy="630.72" r="2.7"/><circle cx="179.82" cy="630.94" r="2.7"/><circle cx="161.34" cy="631.92" r="2.7"/><circle cx="183.14" cy="630.50" r="2.7"/><circle cx="182.81" cy="629.92" r="2.7"/><circle cx="151.39" cy="628.33" r="2.7"/><circle cx="177.07" cy="627.42" r="2.7"/><circle cx="183.31" cy="628.63" r="2.7"/><circle cx="188.22" cy="629.80" r="2.7"/><circle cx="186.74" cy="629.34" r="2.7"/><circle cx="157.53" cy="630.69" r="2.7"/><circle cx="195.94" cy="628.86" r="2.7"/><circle cx="152.71" cy="631.71" r="2.7"/><circle cx="191.98" cy="631.10" r="2.7"/><circle cx="194.03" cy="629.84" r="2.7"/><circle cx="202.82" cy="631.35" r="2.7"/><circle cx="192.12" cy="632.14" r="2.7"/><circle cx="200.46" cy="630.33" r="2.7"/><circle cx="153.79" cy="630.42" r="2.7"/><circle cx="177.87" cy="626.69" r="2.7"/><circle cx="167.92" cy="631.42" r="2.7"/><circle cx="184.94" cy="632.08" r="2.7"/><circle cx="192.12" cy="628.58" r="2.7"/><circle cx="189.79" cy="627.03" r="2.7"/><circle cx="198.34" cy="629.44" r="2.7"/><circle cx="203.91" cy="627.03" r="2.7"/><circle cx="191.39" cy="627.64" r="2.7"/><circle cx="198.00" cy="631.40" r="2.7"/><circle cx="178.77" cy="630.33" r="2.7"/><circle cx="162.75" cy="629.67" r="2.7"/><circle cx="158.83" cy="629.76" r="2.7"/><circle cx="158.26" cy="630.58" r="2.7"/><circle cx="177.71" cy="629.64" r="2.7"/><circle cx="169.67" cy="632.21" r="2.7"/><circle cx="202.64" cy="632.38" r="2.7"/><circle cx="170.57" cy="627.42" r="2.7"/><circle cx="159.62" cy="631.66" r="2.7"/><circle cx="169.93" cy="628.15" r="2.7"/><circle cx="203.07" cy="629.00" r="2.7"/><circle cx="181.41" cy="629.82" r="2.7"/><circle cx="158.27" cy="629.69" r="2.7"/><circle cx="193.90" cy="630.25" r="2.7"/><circle cx="197.71" cy="626.68" r="2.7"/><circle cx="156.61" cy="629.88" r="2.7"/><circle cx="185.89" cy="629.82" r="2.7"/><circle cx="165.83" cy="631.39" r="2.7"/><circle cx="197.43" cy="630.64" r="2.7"/><circle cx="157.96" cy="630.97" r="2.7"/><circle cx="184.00" cy="630.95" r="2.7"/><circle cx="191.01" cy="630.33" r="2.7"/><circle cx="171.77" cy="631.52" r="2.7"/><circle cx="201.42" cy="632.21" r="2.7"/><circle cx="167.33" cy="628.87" r="2.7"/><circle cx="161.25" cy="630.75" r="2.7"/><circle cx="203.54" cy="629.18" r="2.7"/><circle cx="175.32" cy="630.26" r="2.7"/><circle cx="173.52" cy="630.28" r="2.7"/><circle cx="171.03" cy="630.41" r="2.7"/><circle cx="204.30" cy="631.08" r="2.7"/><circle cx="203.47" cy="629.85" r="2.7"/><circle cx="158.89" cy="628.76" r="2.7"/><circle cx="163.38" cy="631.12" r="2.7"/><circle cx="162.93" cy="630.32" r="2.7"/><circle cx="201.51" cy="629.85" r="2.7"/><circle cx="163.69" cy="631.82" r="2.7"/><circle cx="152.00" cy="613.00" r="2.7"/><circle cx="169.00" cy="618.00" r="2.7"/><circle cx="180.00" cy="613.00" r="2.7"/><circle cx="272.75" cy="593.10" r="2.7"/><circle cx="264.18" cy="632.35" r="2.7"/><circle cx="235.34" cy="616.13" r="2.7"/><circle cx="229.61" cy="608.39" r="2.7"/><circle cx="261.27" cy="619.47" r="2.7"/><circle cx="236.05" cy="616.38" r="2.7"/><circle cx="268.83" cy="632.48" r="2.7"/><circle cx="236.61" cy="612.49" r="2.7"/><circle cx="233.86" cy="631.20" r="2.7"/><circle cx="268.90" cy="605.92" r="2.7"/><circle cx="224.84" cy="615.11" r="2.7"/><circle cx="264.60" cy="631.58" r="2.7"/><circle cx="271.16" cy="618.60" r="2.7"/><circle cx="221.47" cy="590.81" r="2.7"/><circle cx="263.30" cy="616.79" r="2.7"/><circle cx="228.44" cy="613.07" r="2.7"/><circle cx="224.59" cy="632.00" r="2.7"/><circle cx="242.67" cy="621.98" r="2.7"/><circle cx="230.06" cy="622.63" r="2.7"/><circle cx="233.00" cy="632.13" r="2.7"/><circle cx="266.51" cy="629.84" r="2.7"/><circle cx="250.02" cy="630.28" r="2.7"/><circle cx="223.74" cy="616.27" r="2.7"/><circle cx="267.39" cy="631.25" r="2.7"/><circle cx="236.40" cy="617.17" r="2.7"/><circle cx="226.74" cy="586.18" r="2.7"/><circle cx="271.16" cy="605.07" r="2.7"/><circle cx="263.00" cy="604.45" r="2.7"/><circle cx="244.04" cy="623.43" r="2.7"/><circle cx="229.23" cy="613.04" r="2.7"/><circle cx="226.73" cy="586.49" r="2.7"/><circle cx="239.27" cy="631.54" r="2.7"/><circle cx="231.16" cy="619.11" r="2.7"/><circle cx="240.67" cy="622.35" r="2.7"/><circle cx="230.84" cy="590.97" r="2.7"/><circle cx="237.20" cy="632.38" r="2.7"/><circle cx="250.90" cy="619.88" r="2.7"/><circle cx="235.24" cy="629.78" r="2.7"/><circle cx="227.22" cy="625.98" r="2.7"/><circle cx="246.48" cy="593.15" r="2.7"/><circle cx="246.55" cy="615.34" r="2.7"/><circle cx="219.67" cy="619.78" r="2.7"/><circle cx="230.27" cy="597.09" r="2.7"/><circle cx="256.72" cy="623.77" r="2.7"/><circle cx="240.52" cy="629.33" r="2.7"/><circle cx="267.14" cy="616.42" r="2.7"/><circle cx="247.94" cy="631.85" r="2.7"/><circle cx="233.70" cy="619.86" r="2.7"/><circle cx="245.75" cy="616.22" r="2.7"/><circle cx="249.81" cy="631.23" r="2.7"/><circle cx="266.87" cy="618.31" r="2.7"/><circle cx="234.63" cy="631.11" r="2.7"/><circle cx="257.65" cy="612.76" r="2.7"/><circle cx="243.40" cy="611.51" r="2.7"/><circle cx="247.80" cy="607.54" r="2.7"/><circle cx="222.98" cy="612.39" r="2.7"/><circle cx="223.87" cy="613.79" r="2.7"/><circle cx="237.09" cy="614.23" r="2.7"/><circle cx="270.04" cy="631.08" r="2.7"/><circle cx="233.42" cy="631.93" r="2.7"/><circle cx="245.53" cy="587.65" r="2.7"/><circle cx="244.82" cy="594.74" r="2.7"/><circle cx="234.16" cy="632.27" r="2.7"/><circle cx="248.24" cy="632.41" r="2.7"/><circle cx="243.32" cy="615.13" r="2.7"/><circle cx="231.67" cy="611.54" r="2.7"/><circle cx="261.38" cy="625.14" r="2.7"/><circle cx="266.28" cy="620.98" r="2.7"/><circle cx="266.80" cy="631.90" r="2.7"/><circle cx="223.16" cy="627.99" r="2.7"/><circle cx="223.20" cy="615.93" r="2.7"/><circle cx="226.08" cy="626.68" r="2.7"/><circle cx="225.90" cy="595.14" r="2.7"/><circle cx="259.43" cy="628.36" r="2.7"/><circle cx="265.46" cy="631.95" r="2.7"/><circle cx="258.17" cy="631.47" r="2.7"/><circle cx="234.90" cy="620.11" r="2.7"/><circle cx="248.98" cy="617.71" r="2.7"/><circle cx="244.43" cy="621.06" r="2.7"/><circle cx="247.46" cy="590.07" r="2.7"/><circle cx="227.23" cy="631.13" r="2.7"/><circle cx="266.52" cy="607.40" r="2.7"/><circle cx="225.25" cy="610.14" r="2.7"/><circle cx="267.26" cy="619.53" r="2.7"/><circle cx="272.76" cy="621.66" r="2.7"/><circle cx="225.46" cy="631.09" r="2.7"/><circle cx="225.66" cy="629.02" r="2.7"/><circle cx="273.69" cy="630.80" r="2.7"/><circle cx="224.00" cy="572.00" r="2.7"/><circle cx="231.00" cy="574.00" r="2.7"/><circle cx="244.00" cy="577.00" r="2.7"/><circle cx="250.00" cy="580.00" r="2.7"/><circle cx="269.00" cy="574.00" r="2.7"/><circle cx="276.00" cy="575.00" r="2.7"/><circle cx="318.63" cy="629.13" r="2.7"/><circle cx="291.67" cy="628.92" r="2.7"/><circle cx="302.01" cy="630.42" r="2.7"/><circle cx="326.60" cy="626.68" r="2.7"/><circle cx="333.26" cy="627.48" r="2.7"/><circle cx="309.40" cy="629.36" r="2.7"/><circle cx="289.13" cy="627.49" r="2.7"/><circle cx="328.15" cy="630.28" r="2.7"/><circle cx="330.73" cy="632.25" r="2.7"/><circle cx="336.19" cy="628.96" r="2.7"/><circle cx="323.50" cy="630.17" r="2.7"/><circle cx="299.96" cy="630.58" r="2.7"/><circle cx="337.35" cy="629.93" r="2.7"/><circle cx="330.33" cy="628.90" r="2.7"/><circle cx="333.78" cy="629.06" r="2.7"/><circle cx="304.16" cy="629.83" r="2.7"/><circle cx="321.01" cy="629.49" r="2.7"/><circle cx="333.08" cy="630.54" r="2.7"/><circle cx="316.30" cy="631.57" r="2.7"/><circle cx="309.47" cy="629.25" r="2.7"/><circle cx="341.22" cy="629.01" r="2.7"/><circle cx="294.80" cy="631.34" r="2.7"/><circle cx="325.27" cy="629.03" r="2.7"/><circle cx="331.73" cy="630.24" r="2.7"/><circle cx="312.30" cy="629.71" r="2.7"/><circle cx="339.56" cy="629.75" r="2.7"/><circle cx="293.19" cy="629.41" r="2.7"/><circle cx="304.15" cy="632.17" r="2.7"/><circle cx="311.46" cy="629.28" r="2.7"/><circle cx="329.45" cy="630.62" r="2.7"/><circle cx="291.87" cy="630.25" r="2.7"/><circle cx="338.67" cy="629.89" r="2.7"/><circle cx="302.69" cy="631.96" r="2.7"/><circle cx="291.05" cy="629.57" r="2.7"/><circle cx="298.34" cy="629.80" r="2.7"/><circle cx="309.49" cy="631.55" r="2.7"/><circle cx="291.49" cy="629.49" r="2.7"/><circle cx="303.30" cy="627.50" r="2.7"/><circle cx="333.79" cy="630.14" r="2.7"/><circle cx="306.77" cy="629.72" r="2.7"/><circle cx="312.02" cy="627.05" r="2.7"/><circle cx="305.57" cy="626.81" r="2.7"/><circle cx="292.93" cy="631.29" r="2.7"/><circle cx="330.32" cy="628.95" r="2.7"/><circle cx="288.47" cy="631.55" r="2.7"/><circle cx="291.22" cy="628.74" r="2.7"/><circle cx="334.00" cy="629.87" r="2.7"/><circle cx="311.54" cy="630.75" r="2.7"/><circle cx="337.82" cy="629.88" r="2.7"/><circle cx="338.00" cy="627.13" r="2.7"/><circle cx="315.97" cy="630.27" r="2.7"/><circle cx="333.87" cy="629.52" r="2.7"/><circle cx="321.96" cy="628.92" r="2.7"/><circle cx="327.50" cy="629.88" r="2.7"/><circle cx="341.75" cy="629.70" r="2.7"/><circle cx="298.05" cy="630.84" r="2.7"/><circle cx="312.22" cy="627.70" r="2.7"/><circle cx="340.24" cy="629.58" r="2.7"/><circle cx="296.70" cy="628.35" r="2.7"/><circle cx="301.43" cy="631.92" r="2.7"/><circle cx="332.03" cy="626.82" r="2.7"/><circle cx="325.90" cy="629.05" r="2.7"/><circle cx="311.48" cy="630.47" r="2.7"/><circle cx="303.56" cy="628.93" r="2.7"/><circle cx="338.51" cy="630.80" r="2.7"/><circle cx="333.05" cy="630.48" r="2.7"/><circle cx="340.09" cy="630.54" r="2.7"/><circle cx="328.37" cy="628.93" r="2.7"/><circle cx="326.12" cy="632.00" r="2.7"/><circle cx="318.78" cy="630.38" r="2.7"/><circle cx="297.10" cy="629.49" r="2.7"/><circle cx="316.51" cy="630.43" r="2.7"/><circle cx="315.94" cy="628.68" r="2.7"/><circle cx="341.53" cy="629.55" r="2.7"/><circle cx="293.98" cy="631.23" r="2.7"/><circle cx="307.54" cy="632.11" r="2.7"/><circle cx="289.17" cy="630.59" r="2.7"/><circle cx="324.74" cy="630.38" r="2.7"/><circle cx="289.51" cy="629.62" r="2.7"/><circle cx="315.14" cy="628.96" r="2.7"/><circle cx="292.36" cy="630.01" r="2.7"/><circle cx="307.56" cy="632.38" r="2.7"/><circle cx="300.33" cy="629.25" r="2.7"/><circle cx="323.58" cy="627.74" r="2.7"/><circle cx="295.73" cy="627.32" r="2.7"/><circle cx="333.96" cy="630.79" r="2.7"/><circle cx="293.99" cy="628.90" r="2.7"/><circle cx="323.82" cy="627.03" r="2.7"/><circle cx="307.10" cy="620.00" r="2.7"/><circle cx="389.17" cy="630.61" r="2.7"/><circle cx="360.51" cy="628.77" r="2.7"/><circle cx="403.52" cy="630.45" r="2.7"/><circle cx="365.05" cy="629.95" r="2.7"/><circle cx="375.83" cy="627.54" r="2.7"/><circle cx="378.17" cy="629.92" r="2.7"/><circle cx="391.91" cy="631.70" r="2.7"/><circle cx="370.91" cy="632.42" r="2.7"/><circle cx="376.05" cy="630.39" r="2.7"/><circle cx="377.57" cy="629.60" r="2.7"/><circle cx="393.56" cy="630.77" r="2.7"/><circle cx="359.64" cy="625.80" r="2.7"/><circle cx="374.93" cy="629.07" r="2.7"/><circle cx="380.34" cy="632.13" r="2.7"/><circle cx="372.39" cy="628.50" r="2.7"/><circle cx="379.52" cy="629.13" r="2.7"/><circle cx="378.46" cy="629.90" r="2.7"/><circle cx="362.10" cy="630.84" r="2.7"/><circle cx="390.60" cy="630.82" r="2.7"/><circle cx="380.04" cy="627.82" r="2.7"/><circle cx="396.59" cy="631.63" r="2.7"/><circle cx="404.78" cy="630.69" r="2.7"/><circle cx="362.78" cy="628.97" r="2.7"/><circle cx="393.73" cy="626.03" r="2.7"/><circle cx="371.41" cy="629.35" r="2.7"/><circle cx="399.54" cy="625.86" r="2.7"/><circle cx="370.90" cy="630.35" r="2.7"/><circle cx="356.16" cy="629.03" r="2.7"/><circle cx="396.23" cy="629.66" r="2.7"/><circle cx="396.59" cy="628.74" r="2.7"/><circle cx="394.99" cy="627.57" r="2.7"/><circle cx="390.39" cy="631.07" r="2.7"/><circle cx="359.33" cy="628.92" r="2.7"/><circle cx="374.04" cy="631.71" r="2.7"/><circle cx="359.68" cy="629.45" r="2.7"/><circle cx="410.44" cy="626.71" r="2.7"/><circle cx="408.25" cy="626.46" r="2.7"/><circle cx="385.68" cy="629.60" r="2.7"/><circle cx="393.35" cy="628.94" r="2.7"/><circle cx="381.74" cy="631.59" r="2.7"/><circle cx="364.81" cy="631.79" r="2.7"/><circle cx="361.12" cy="627.80" r="2.7"/><circle cx="368.18" cy="629.95" r="2.7"/><circle cx="372.90" cy="629.68" r="2.7"/><circle cx="359.17" cy="629.01" r="2.7"/><circle cx="356.18" cy="627.11" r="2.7"/><circle cx="391.98" cy="630.03" r="2.7"/><circle cx="381.23" cy="625.84" r="2.7"/><circle cx="397.47" cy="626.79" r="2.7"/><circle cx="394.20" cy="629.43" r="2.7"/><circle cx="403.70" cy="626.79" r="2.7"/><circle cx="375.15" cy="626.05" r="2.7"/><circle cx="407.27" cy="630.26" r="2.7"/><circle cx="374.46" cy="627.63" r="2.7"/><circle cx="404.73" cy="629.22" r="2.7"/><circle cx="362.79" cy="629.67" r="2.7"/><circle cx="375.81" cy="631.27" r="2.7"/><circle cx="359.21" cy="630.91" r="2.7"/><circle cx="404.61" cy="626.30" r="2.7"/><circle cx="393.14" cy="630.70" r="2.7"/><circle cx="397.43" cy="631.60" r="2.7"/><circle cx="381.51" cy="630.39" r="2.7"/><circle cx="388.07" cy="629.56" r="2.7"/><circle cx="363.23" cy="629.97" r="2.7"/><circle cx="384.77" cy="629.18" r="2.7"/><circle cx="395.87" cy="631.73" r="2.7"/><circle cx="383.80" cy="629.31" r="2.7"/><circle cx="383.81" cy="630.75" r="2.7"/><circle cx="372.43" cy="631.31" r="2.7"/><circle cx="392.11" cy="630.61" r="2.7"/><circle cx="388.53" cy="626.39" r="2.7"/><circle cx="391.34" cy="631.59" r="2.7"/><circle cx="392.53" cy="631.43" r="2.7"/><circle cx="363.87" cy="629.62" r="2.7"/><circle cx="395.23" cy="632.14" r="2.7"/><circle cx="360.46" cy="628.20" r="2.7"/><circle cx="368.99" cy="628.82" r="2.7"/><circle cx="391.41" cy="629.44" r="2.7"/><circle cx="406.50" cy="630.50" r="2.7"/><circle cx="394.02" cy="631.86" r="2.7"/><circle cx="403.07" cy="625.87" r="2.7"/><circle cx="379.11" cy="630.40" r="2.7"/><circle cx="395.56" cy="631.85" r="2.7"/><circle cx="367.12" cy="629.78" r="2.7"/><circle cx="405.20" cy="627.96" r="2.7"/><circle cx="358.24" cy="629.50" r="2.7"/><circle cx="365.47" cy="625.95" r="2.7"/><circle cx="377.49" cy="630.34" r="2.7"/><circle cx="358.00" cy="589.60" r="2.7"/><circle cx="400.00" cy="619.00" r="2.7"/><circle cx="402.00" cy="622.00" r="2.7"/><circle cx="433.64" cy="627.42" r="2.7"/><circle cx="466.66" cy="628.54" r="2.7"/><circle cx="433.09" cy="626.03" r="2.7"/><circle cx="469.19" cy="627.87" r="2.7"/><circle cx="466.36" cy="623.25" r="2.7"/><circle cx="468.26" cy="623.58" r="2.7"/><circle cx="425.98" cy="626.65" r="2.7"/><circle cx="459.71" cy="627.87" r="2.7"/><circle cx="450.94" cy="623.78" r="2.7"/><circle cx="455.37" cy="626.61" r="2.7"/><circle cx="424.35" cy="625.09" r="2.7"/><circle cx="445.35" cy="628.66" r="2.7"/><circle cx="477.63" cy="631.53" r="2.7"/><circle cx="455.42" cy="625.74" r="2.7"/><circle cx="471.29" cy="629.40" r="2.7"/><circle cx="476.92" cy="625.04" r="2.7"/><circle cx="478.98" cy="627.54" r="2.7"/><circle cx="459.63" cy="624.72" r="2.7"/><circle cx="474.84" cy="623.10" r="2.7"/><circle cx="462.12" cy="630.92" r="2.7"/><circle cx="468.29" cy="624.34" r="2.7"/><circle cx="478.00" cy="629.89" r="2.7"/><circle cx="478.86" cy="629.41" r="2.7"/><circle cx="476.31" cy="624.43" r="2.7"/><circle cx="435.94" cy="624.80" r="2.7"/><circle cx="450.36" cy="623.73" r="2.7"/><circle cx="473.81" cy="629.81" r="2.7"/><circle cx="443.03" cy="625.04" r="2.7"/><circle cx="431.74" cy="624.22" r="2.7"/><circle cx="439.27" cy="625.46" r="2.7"/><circle cx="462.86" cy="621.58" r="2.7"/><circle cx="454.91" cy="629.51" r="2.7"/><circle cx="437.52" cy="627.86" r="2.7"/><circle cx="438.75" cy="630.54" r="2.7"/><circle cx="451.73" cy="625.84" r="2.7"/><circle cx="474.86" cy="626.91" r="2.7"/><circle cx="445.29" cy="623.87" r="2.7"/><circle cx="430.29" cy="625.45" r="2.7"/><circle cx="425.62" cy="630.20" r="2.7"/><circle cx="473.48" cy="629.89" r="2.7"/><circle cx="450.73" cy="625.74" r="2.7"/><circle cx="440.07" cy="622.97" r="2.7"/><circle cx="440.07" cy="625.43" r="2.7"/><circle cx="451.88" cy="623.92" r="2.7"/><circle cx="453.04" cy="626.79" r="2.7"/><circle cx="432.00" cy="627.43" r="2.7"/><circle cx="473.93" cy="628.86" r="2.7"/><circle cx="453.99" cy="624.95" r="2.7"/><circle cx="463.55" cy="624.80" r="2.7"/><circle cx="470.79" cy="625.20" r="2.7"/><circle cx="434.92" cy="629.14" r="2.7"/><circle cx="435.84" cy="625.21" r="2.7"/><circle cx="462.49" cy="625.96" r="2.7"/><circle cx="445.90" cy="630.78" r="2.7"/><circle cx="471.85" cy="631.70" r="2.7"/><circle cx="454.92" cy="625.92" r="2.7"/><circle cx="456.62" cy="626.14" r="2.7"/><circle cx="477.23" cy="625.10" r="2.7"/><circle cx="469.59" cy="629.24" r="2.7"/><circle cx="439.59" cy="629.16" r="2.7"/><circle cx="462.26" cy="629.36" r="2.7"/><circle cx="452.60" cy="623.07" r="2.7"/><circle cx="450.74" cy="631.26" r="2.7"/><circle cx="474.01" cy="625.50" r="2.7"/><circle cx="459.84" cy="621.02" r="2.7"/><circle cx="463.78" cy="627.46" r="2.7"/><circle cx="445.60" cy="625.15" r="2.7"/><circle cx="428.85" cy="624.80" r="2.7"/><circle cx="447.79" cy="626.26" r="2.7"/><circle cx="432.76" cy="628.36" r="2.7"/><circle cx="424.86" cy="623.72" r="2.7"/><circle cx="439.87" cy="623.68" r="2.7"/><circle cx="468.83" cy="631.22" r="2.7"/><circle cx="450.07" cy="625.61" r="2.7"/><circle cx="470.50" cy="628.89" r="2.7"/><circle cx="459.94" cy="630.88" r="2.7"/><circle cx="428.35" cy="627.54" r="2.7"/><circle cx="438.98" cy="631.40" r="2.7"/><circle cx="427.85" cy="630.42" r="2.7"/><circle cx="474.49" cy="621.53" r="2.7"/><circle cx="472.79" cy="626.85" r="2.7"/><circle cx="473.61" cy="626.57" r="2.7"/><circle cx="477.97" cy="625.47" r="2.7"/><circle cx="434.86" cy="627.86" r="2.7"/><circle cx="477.76" cy="625.04" r="2.7"/><circle cx="461.92" cy="625.11" r="2.7"/><circle cx="444.68" cy="627.71" r="2.7"/><circle cx="466.49" cy="626.76" r="2.7"/><circle cx="427.50" cy="614.00" r="2.7"/><circle cx="470.00" cy="613.00" r="2.7"/><circle cx="475.00" cy="614.00" r="2.7"/><circle cx="511.18" cy="624.33" r="2.7"/><circle cx="543.18" cy="624.35" r="2.7"/><circle cx="501.94" cy="624.53" r="2.7"/><circle cx="533.52" cy="617.39" r="2.7"/><circle cx="539.96" cy="623.67" r="2.7"/><circle cx="504.46" cy="620.94" r="2.7"/><circle cx="497.10" cy="628.54" r="2.7"/><circle cx="537.60" cy="623.11" r="2.7"/><circle cx="546.74" cy="620.94" r="2.7"/><circle cx="492.88" cy="628.05" r="2.7"/><circle cx="534.38" cy="619.94" r="2.7"/><circle cx="510.20" cy="617.46" r="2.7"/><circle cx="523.21" cy="624.18" r="2.7"/><circle cx="527.34" cy="628.36" r="2.7"/><circle cx="539.12" cy="622.46" r="2.7"/><circle cx="515.70" cy="619.21" r="2.7"/><circle cx="524.70" cy="622.87" r="2.7"/><circle cx="530.83" cy="622.10" r="2.7"/><circle cx="512.45" cy="625.22" r="2.7"/><circle cx="500.93" cy="621.27" r="2.7"/><circle cx="523.27" cy="625.35" r="2.7"/><circle cx="499.38" cy="623.08" r="2.7"/><circle cx="517.53" cy="623.04" r="2.7"/><circle cx="496.45" cy="625.54" r="2.7"/><circle cx="530.96" cy="621.52" r="2.7"/><circle cx="522.08" cy="627.99" r="2.7"/><circle cx="533.33" cy="615.73" r="2.7"/><circle cx="510.12" cy="620.91" r="2.7"/><circle cx="540.31" cy="625.65" r="2.7"/><circle cx="533.79" cy="615.82" r="2.7"/><circle cx="533.54" cy="618.96" r="2.7"/><circle cx="502.80" cy="623.57" r="2.7"/><circle cx="526.01" cy="621.64" r="2.7"/><circle cx="539.94" cy="625.93" r="2.7"/><circle cx="545.62" cy="619.02" r="2.7"/><circle cx="518.52" cy="622.67" r="2.7"/><circle cx="514.43" cy="617.94" r="2.7"/><circle cx="542.27" cy="618.54" r="2.7"/><circle cx="495.53" cy="615.92" r="2.7"/><circle cx="536.07" cy="629.01" r="2.7"/><circle cx="510.42" cy="620.15" r="2.7"/><circle cx="508.06" cy="623.27" r="2.7"/><circle cx="526.32" cy="621.75" r="2.7"/><circle cx="533.26" cy="625.97" r="2.7"/><circle cx="543.61" cy="630.72" r="2.7"/><circle cx="533.53" cy="630.77" r="2.7"/><circle cx="535.43" cy="622.86" r="2.7"/><circle cx="494.04" cy="620.76" r="2.7"/><circle cx="544.48" cy="625.32" r="2.7"/><circle cx="537.53" cy="616.89" r="2.7"/><circle cx="535.76" cy="621.88" r="2.7"/><circle cx="508.86" cy="623.31" r="2.7"/><circle cx="538.39" cy="625.73" r="2.7"/><circle cx="546.86" cy="615.65" r="2.7"/><circle cx="516.64" cy="624.95" r="2.7"/><circle cx="517.24" cy="622.88" r="2.7"/><circle cx="541.89" cy="623.98" r="2.7"/><circle cx="501.04" cy="622.87" r="2.7"/><circle cx="514.43" cy="621.93" r="2.7"/><circle cx="498.17" cy="628.23" r="2.7"/><circle cx="531.00" cy="631.53" r="2.7"/><circle cx="530.48" cy="623.89" r="2.7"/><circle cx="543.18" cy="624.91" r="2.7"/><circle cx="541.22" cy="629.48" r="2.7"/><circle cx="519.24" cy="620.67" r="2.7"/><circle cx="511.56" cy="629.34" r="2.7"/><circle cx="515.61" cy="622.93" r="2.7"/><circle cx="504.82" cy="626.62" r="2.7"/><circle cx="492.79" cy="628.96" r="2.7"/><circle cx="501.55" cy="620.72" r="2.7"/><circle cx="507.79" cy="623.23" r="2.7"/><circle cx="524.61" cy="626.09" r="2.7"/><circle cx="519.11" cy="625.44" r="2.7"/><circle cx="494.89" cy="624.92" r="2.7"/><circle cx="524.71" cy="617.33" r="2.7"/><circle cx="545.79" cy="624.76" r="2.7"/><circle cx="519.02" cy="620.62" r="2.7"/><circle cx="521.21" cy="628.52" r="2.7"/><circle cx="530.90" cy="617.60" r="2.7"/><circle cx="509.90" cy="630.27" r="2.7"/><circle cx="498.61" cy="625.02" r="2.7"/><circle cx="540.29" cy="625.50" r="2.7"/><circle cx="527.43" cy="616.42" r="2.7"/><circle cx="508.28" cy="621.29" r="2.7"/><circle cx="506.95" cy="625.33" r="2.7"/><circle cx="510.34" cy="615.91" r="2.7"/><circle cx="495.59" cy="623.09" r="2.7"/><circle cx="516.36" cy="624.40" r="2.7"/><circle cx="547.00" cy="534.10" r="2.7"/><circle cx="540.00" cy="613.50" r="2.7"/></g>
<g stroke="#000" fill="none"><line x1="68.34" y1="27.80" x2="561.48" y2="27.80" stroke-width="1.5"/><line x1="68.34" y1="329.20" x2="561.48" y2="329.20" stroke-width="1.9"/><line x1="69.26" y1="27.05" x2="69.26" y2="330.15" stroke-width="1.85"/><line x1="560.56" y1="27.05" x2="560.56" y2="330.15" stroke-width="1.85"/><line x1="68.34" y1="345.05" x2="561.48" y2="345.05" stroke-width="1.25"/><line x1="68.34" y1="646.20" x2="561.48" y2="646.20" stroke-width="1.95"/><line x1="69.26" y1="344.43" x2="69.26" y2="647.18" stroke-width="1.85"/><line x1="560.56" y1="344.43" x2="560.56" y2="647.18" stroke-width="1.85"/></g>
<g stroke="#2a2a2a" stroke-width="1.1"><line x1="65.4" y1="317.35" x2="69.20" y2="317.35"/><line x1="65.4" y1="223.79" x2="69.20" y2="223.79"/><line x1="65.4" y1="130.22" x2="69.20" y2="130.22"/><line x1="65.4" y1="36.66" x2="69.20" y2="36.66"/><line x1="65.4" y1="632.90" x2="69.20" y2="632.90"/><line x1="65.4" y1="563.42" x2="69.20" y2="563.42"/><line x1="65.4" y1="493.95" x2="69.20" y2="493.95"/><line x1="65.4" y1="424.48" x2="69.20" y2="424.48"/><line x1="65.4" y1="355.00" x2="69.20" y2="355.00"/><line x1="109.70" y1="646.00" x2="109.70" y2="649.6"/><line x1="109.70" y1="329.20" x2="109.70" y2="332.4"/><line x1="178.10" y1="646.00" x2="178.10" y2="649.6"/><line x1="178.10" y1="329.20" x2="178.10" y2="332.4"/><line x1="246.50" y1="646.00" x2="246.50" y2="649.6"/><line x1="246.50" y1="329.20" x2="246.50" y2="332.4"/><line x1="314.90" y1="646.00" x2="314.90" y2="649.6"/><line x1="314.90" y1="329.20" x2="314.90" y2="332.4"/><line x1="383.30" y1="646.00" x2="383.30" y2="649.6"/><line x1="383.30" y1="329.20" x2="383.30" y2="332.4"/><line x1="451.70" y1="646.00" x2="451.70" y2="649.6"/><line x1="451.70" y1="329.20" x2="451.70" y2="332.4"/><line x1="520.10" y1="646.00" x2="520.10" y2="649.6"/><line x1="520.10" y1="329.20" x2="520.10" y2="332.4"/></g>
<g font-family="'Liberation Sans', sans-serif" font-size="17.3" fill="#404040"><text x="44.2" y="317.65" text-anchor="middle">0</text><text x="44.2" y="224.09" text-anchor="middle">500</text><text x="44.2" y="130.52" text-anchor="middle">1000</text><text x="44.2" y="36.96" text-anchor="middle">1500</text><text x="48.9" y="633.20" text-anchor="middle">0</text><text x="48.9" y="563.72" text-anchor="middle">25</text><text x="48.9" y="494.25" text-anchor="middle">50</text><text x="48.9" y="424.78" text-anchor="middle">75</text><text x="48.9" y="355.30" text-anchor="middle">100</text><text x="109.70" y="669.0" text-anchor="middle">A and B</text><text x="178.10" y="669.0" text-anchor="middle">C</text><text x="246.50" y="669.0" text-anchor="middle">C and D</text><text x="314.90" y="669.0" text-anchor="middle">D</text><text x="383.30" y="669.0" text-anchor="middle">E East</text><text x="451.70" y="669.0" text-anchor="middle">E West</text><text x="520.10" y="669.0" text-anchor="middle">F</text></g>
<text font-family="'Liberation Sans', sans-serif" font-size="19.8" fill="#2b2b2b" x="315.1" y="694.1" text-anchor="middle">Landfill area</text>
<text font-family="'Liberation Sans', sans-serif" font-size="19.8" fill="#2b2b2b" transform="translate(17.2,178.7) rotate(-90)" text-anchor="middle">Standard cubic feet per minute</text>
<text font-family="'Liberation Sans', sans-serif" font-size="19.8" fill="#2b2b2b" transform="translate(17.2,495.6) rotate(-90)" text-anchor="middle">% composition</text>
<text font-family="'Liberation Sans', sans-serif" fill="#000" font-size="19.7" x="579.2" y="478.6">Gas</text>
<circle cx="588.65" cy="500.40" r="2.6" fill="#F8766D" fill-opacity="0.22"/><g stroke="#F8766D" stroke-width="1.2" fill="none"><line x1="588.65" y1="492.20" x2="588.65" y2="495.80"/><line x1="588.65" y1="505.20" x2="588.65" y2="508.90"/><rect x="581.7" y="495.80" width="13.9" height="9.40"/></g><line x1="581.7" y1="500.40" x2="595.6" y2="500.40" stroke="#F8766D" stroke-width="1.7"/>
<circle cx="588.65" cy="519.10" r="2.6" fill="#00BFC4" fill-opacity="0.22"/><g stroke="#00BFC4" stroke-width="1.2" fill="none"><line x1="588.65" y1="511.30" x2="588.65" y2="514.50"/><line x1="588.65" y1="523.80" x2="588.65" y2="527.70"/><rect x="581.7" y="514.50" width="13.9" height="9.30"/></g><line x1="581.7" y1="519.10" x2="595.6" y2="519.10" stroke="#00BFC4" stroke-width="1.7"/>
<text font-family="'Liberation Sans', sans-serif" fill="#000" font-size="19.8" x="608.2" y="507.3">Methane</text>
<text font-family="'Liberation Sans', sans-serif" fill="#000" font-size="19.8" x="608.2" y="526.3">Oxygen</text>
</svg></body></html>
